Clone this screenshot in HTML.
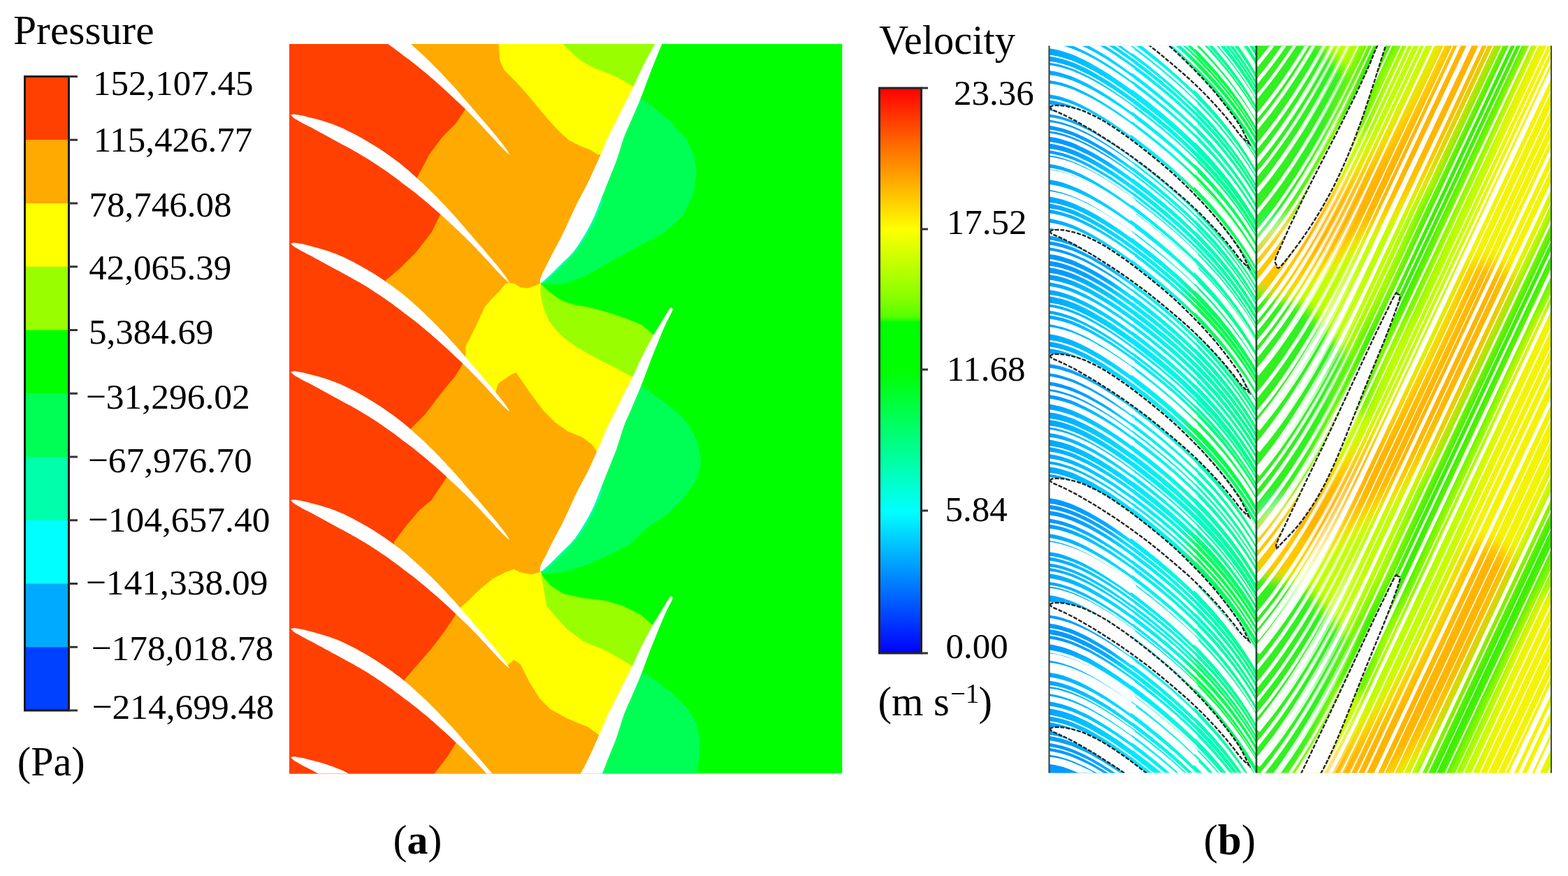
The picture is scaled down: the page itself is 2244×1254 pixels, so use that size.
<!DOCTYPE html>
<html><head><meta charset="utf-8"><title>Pressure and velocity contours</title>
<style>html,body{margin:0;padding:0;background:#fff;width:2244px;height:1254px;overflow:hidden}svg{display:block;filter:blur(0.6px)}</style>
</head><body>
<svg width="2244" height="1254" viewBox="0 0 2244 1254">
<rect width="2244" height="1254" fill="#fff"/>
<clipPath id="pc"><rect x="414.0" y="63.0" width="791.5" height="1044.5"/></clipPath>
<g clip-path="url(#pc)">
<rect x="414.0" y="63.0" width="791.5" height="1044.5" fill="#00ff00"/>
<polygon points="920.2,142.1 932.6,151.4 946.6,163.9 960.0,173.2 966.3,182.6 982.2,198.5 993.4,224.1 996.6,246.4 991.8,278.3 975.9,310.2 950.4,332.5 915.3,351.7 873.8,374.0 841.9,393.1 810.0,405.0 799.5,407.0 787.0,406.6 776.5,405.0 774.4,404.0 801.3,367.0 823.8,330.0 841.1,293.0 857.8,256.0 873.2,219.0 888.4,182.0 905.5,145.0" fill="#00ff55" stroke="#00ff55" stroke-width="0.6" stroke-linejoin="round"/>
<polygon points="919.6,552.8 935.4,565.1 953.0,577.4 970.5,591.4 986.4,609.7 998.4,633.6 1002.0,655.1 1002.5,665.0 996.0,687.8 979.2,711.8 955.3,735.7 926.6,754.8 900.0,779.9 871.6,794.2 839.7,808.6 807.8,818.2 786.0,821.5 776.0,820.5 774.4,817.0 801.7,779.6 824.3,742.1 841.7,704.7 858.6,667.3 874.1,629.9 889.6,592.4 906.9,555.0" fill="#00ff55" stroke="#00ff55" stroke-width="0.6" stroke-linejoin="round"/>
<polygon points="923.0,963.7 943.4,978.0 963.7,994.2 984.0,1014.6 996.3,1034.9 1001.3,1059.3 1000.3,1083.7 996.3,1112.5 844.1,1112.5 853.7,1091.6 862.9,1070.6 871.4,1049.7 879.3,1028.8 888.5,1007.9 898.2,986.9 907.8,966.0" fill="#00ff55" stroke="#00ff55" stroke-width="0.6" stroke-linejoin="round"/>
<polygon points="409.0,58.0 943.0,58.0 944.1,60.0 929.0,91.4 915.5,122.7 901.3,154.1 886.8,185.5 874.0,216.9 861.2,248.2 847.2,279.6 833.3,311.0 817.0,342.4 796.3,373.7 773.7,405.1 774.0,406.6 783.5,416.1 796.3,425.7 807.5,432.1 823.4,436.9 840.0,439.5 866.8,446.5 895.5,456.0 917.9,465.1 936.2,480.5 939.5,482.0 925.2,512.6 912.3,543.1 898.3,573.7 884.1,604.3 872.1,634.8 859.5,665.4 845.7,695.9 832.1,726.5 816.1,757.1 795.6,787.6 773.7,818.2 775.9,824.2 787.8,838.6 807.0,850.5 835.7,856.5 866.1,860.0 892.5,868.1 916.9,880.3 933.2,894.6 939.1,896.0 929.9,915.7 921.1,935.4 912.8,955.0 903.9,974.7 894.8,994.4 885.6,1014.1 877.4,1033.8 870.0,1053.5 861.8,1073.1 853.2,1092.8 844.1,1112.5 409.0,1112.5" fill="#99ff00" stroke="#99ff00" stroke-width="0.6" stroke-linejoin="round"/>
<polygon points="409.0,58.0 805.1,58.0 805.1,62.8 814.4,72.1 830.0,86.1 845.5,95.4 861.1,101.7 876.6,107.9 892.2,115.7 904.6,123.4 914.9,124.0 903.4,149.6 891.6,175.1 880.0,200.7 870.4,226.2 859.7,251.8 848.2,277.3 836.8,302.9 824.6,328.4 810.1,354.0 791.9,379.5 773.7,405.1 772.8,415.0 774.5,428.0 778.0,442.0 785.0,458.5 795.0,472.0 807.3,484.0 823.4,496.0 838.0,504.5 859.6,516.4 883.5,528.3 906.0,540.5 912.8,542.0 901.3,567.1 889.7,592.2 878.7,617.3 869.2,642.4 858.5,667.5 847.2,692.7 836.0,717.8 823.9,742.9 809.6,768.0 791.6,793.1 773.7,818.2 775.9,831.4 779.0,850.0 782.0,867.3 792.9,880.3 811.2,900.7 835.6,919.0 866.1,931.2 898.6,949.5 906.8,955.6 911.9,957.0 905.5,971.1 899.0,985.3 892.5,999.4 885.9,1013.5 879.7,1027.7 874.5,1041.8 869.0,1056.0 863.1,1070.1 857.0,1084.2 850.6,1098.4 844.1,1112.5 409.0,1112.5" fill="#ffff00" stroke="#ffff00" stroke-width="0.6" stroke-linejoin="round"/>
<polygon points="409.0,58.0 713.3,58.0 713.3,62.8 714.9,86.1 721.1,100.1 736.7,115.7 752.2,132.8 767.8,151.4 783.3,170.1 798.9,187.2 814.4,201.2 830.0,209.0 845.5,215.2 854.9,221.4 872.0,222.0 865.4,238.6 858.1,255.3 850.7,271.9 843.0,288.6 835.8,305.2 827.9,321.9 819.3,338.5 809.4,355.2 797.7,371.8 785.2,388.5 773.7,405.1 772.4,405.5 766.0,408.6 754.8,412.3 745.3,411.3 735.7,405.5 727.5,404.5 722.9,406.6 715.0,416.1 703.8,427.3 694.2,438.5 687.8,451.2 681.5,465.6 673.5,481.5 666.0,496.0 666.0,517.4 674.6,526.7 683.2,536.2 691.9,545.8 700.5,555.5 709.1,565.4 711.0,556.0 713.4,549.1 723.5,542.0 732.1,536.2 738.5,533.5 760.9,565.9 777.5,587.9 795.1,605.4 812.6,617.7 833.7,626.5 847.7,637.0 854.7,648.0 866.1,650.0 859.5,665.3 852.8,680.6 845.7,695.9 838.9,711.2 832.2,726.5 824.5,741.7 816.1,757.0 807.0,772.3 795.7,787.6 784.1,802.9 773.7,818.2 772.2,819.0 760.0,822.1 744.6,819.0 735.4,814.4 723.1,819.0 704.7,828.2 686.3,843.6 670.9,858.9 658.7,869.7 660.0,878.9 673.2,893.0 686.5,907.6 699.7,922.5 713.0,937.6 726.2,953.0 735.4,944.9 744.6,951.0 756.9,975.6 772.2,1000.1 787.6,1015.5 810.0,1027.8 821.4,1032.9 841.7,1041.0 858.0,1053.2 869.8,1054.0 867.7,1059.3 865.4,1064.6 863.2,1070.0 860.9,1075.3 858.5,1080.6 856.2,1085.9 853.9,1091.2 851.4,1096.5 849.0,1101.9 846.5,1107.2 844.1,1112.5 409.0,1112.5" fill="#ffaa00" stroke="#ffaa00" stroke-width="0.6" stroke-linejoin="round"/>
<polygon points="409.0,58.0 570.0,58.0 565.0,57.3 579.8,68.6 594.5,80.7 609.3,93.6 624.1,107.3 638.9,121.6 653.6,136.6 668.4,152.2 652.4,176.2 633.3,195.4 614.1,220.9 596.6,254.4 596.6,266.4 608.8,277.1 621.1,288.3 633.3,300.0 617.3,332.5 595.0,361.2 572.7,383.5 551.9,401.1 551.9,415.6 568.0,427.3 584.1,439.9 600.2,453.4 616.4,467.8 632.5,483.1 648.6,499.2 664.7,516.0 651.7,537.7 637.4,554.9 623.0,573.5 608.7,592.2 601.5,600.0 587.0,613.7 587.0,626.1 601.0,638.0 615.0,650.4 628.9,663.6 642.9,677.3 617.3,715.8 600.3,730.0 581.9,751.5 563.5,776.0 563.5,791.7 576.7,801.7 589.8,812.4 603.0,823.6 616.1,835.4 629.3,847.8 642.4,860.8 655.6,874.3 637.2,901.9 618.7,926.5 600.3,948.0 578.8,972.5 578.8,987.3 594.2,999.9 609.5,1013.3 624.9,1027.5 640.2,1042.5 655.6,1058.2 640.2,1083.0 621.8,1107.0 619.0,1112.5 409.0,1112.5" fill="#ff4000" stroke="#ff4000" stroke-width="0.6" stroke-linejoin="round"/>
<polyline points="861.1,286.9 854.4,303.6 846.7,320.3 837.6,337.0 826.5,353.8 812.0,370.5 795.3,387.2 777.4,403.9" fill="none" stroke="#00ffaa" stroke-width="4" stroke-linecap="round"/>
<polyline points="861.1,700.0 854.4,716.7 846.7,733.4 837.6,750.1 826.5,766.9 812.0,783.6 795.3,800.3 777.4,817.0" fill="none" stroke="#00ffaa" stroke-width="4" stroke-linecap="round"/>
<polyline points="861.1,1113.1 854.4,1129.8 846.7,1146.5 837.6,1163.2 826.5,1180.0 812.0,1196.7 795.3,1213.4 777.4,1230.1" fill="none" stroke="#00ffaa" stroke-width="4" stroke-linecap="round"/>
<path d="M416.0,-19.3 C416.3,-19.4 417.3,-19.7 418.0,-19.8 C418.7,-20.0 419.3,-20.2 420.0,-20.3 C420.7,-20.4 421.3,-20.4 422.0,-20.4 C422.7,-20.3 423.3,-20.1 424.0,-20.0 C424.7,-19.9 425.3,-19.8 426.0,-19.7 C426.7,-19.6 427.3,-19.5 428.0,-19.4 C428.7,-19.3 429.3,-19.2 430.0,-19.0 C430.7,-18.9 431.3,-18.8 432.0,-18.7 C432.7,-18.6 432.8,-18.5 434.0,-18.2 C435.2,-17.9 437.3,-17.4 439.0,-17.0 C440.7,-16.5 442.3,-16.1 444.0,-15.7 C445.7,-15.2 447.4,-14.8 449.0,-14.4 C450.7,-13.9 452.4,-13.5 454.0,-13.1 C455.7,-12.6 457.4,-12.1 459.0,-11.6 C460.7,-11.2 462.4,-10.7 464.1,-10.1 C465.7,-9.6 467.4,-9.1 469.1,-8.5 C470.7,-8.0 472.4,-7.4 474.1,-6.8 C475.7,-6.2 477.4,-5.6 479.1,-5.0 C480.7,-4.3 482.4,-3.6 484.1,-2.9 C485.8,-2.2 487.4,-1.6 489.1,-0.8 C490.8,-0.1 492.4,0.7 494.1,1.5 C495.8,2.3 497.4,3.2 499.1,4.0 C500.8,4.8 502.4,5.7 504.1,6.5 C505.8,7.4 507.5,8.3 509.1,9.1 C510.8,10.0 512.5,10.9 514.1,11.9 C515.8,12.8 517.5,13.7 519.1,14.6 C520.8,15.6 522.5,16.5 524.2,17.5 C525.8,18.5 527.5,19.5 529.2,20.5 C530.8,21.5 532.5,22.5 534.2,23.5 C535.8,24.6 537.5,25.6 539.2,26.7 C540.8,27.7 542.5,28.8 544.2,29.9 C545.9,31.0 547.5,32.1 549.2,33.2 C550.9,34.4 552.5,35.5 554.2,36.7 C555.9,37.9 557.5,39.1 559.2,40.3 C560.9,41.5 562.6,42.7 564.2,43.9 C565.9,45.2 567.6,46.4 569.2,47.7 C570.9,48.9 572.6,50.2 574.2,51.5 C575.9,52.8 577.6,54.1 579.2,55.5 C580.9,56.9 582.6,58.4 584.3,59.8 C585.9,61.3 587.6,62.8 589.3,64.3 C590.9,65.7 592.6,67.3 594.3,68.8 C595.9,70.3 597.6,71.8 599.3,73.3 C600.9,74.8 602.6,76.4 604.3,77.9 C606.0,79.5 607.6,81.0 609.3,82.6 C611.0,84.2 612.6,85.9 614.3,87.5 C616.0,89.1 617.6,90.8 619.3,92.4 C621.0,94.1 622.7,95.8 624.3,97.5 C626.0,99.2 627.7,100.9 629.3,102.6 C631.0,104.4 632.7,106.1 634.3,107.9 C636.0,109.6 637.7,111.4 639.3,113.2 C641.0,115.0 642.7,116.7 644.4,118.6 C646.0,120.4 647.7,122.2 649.4,124.0 C651.0,125.9 652.7,127.7 654.4,129.6 C656.0,131.5 657.7,133.5 659.4,135.4 C661.1,137.3 662.7,139.3 664.4,141.2 C666.1,143.2 667.7,145.1 669.4,147.0 C671.1,148.9 672.7,150.9 674.4,152.8 C676.1,154.7 677.7,156.7 679.4,158.6 C681.1,160.6 682.8,162.5 684.4,164.4 C686.1,166.4 687.8,168.3 689.4,170.2 C691.1,172.2 692.8,174.2 694.4,176.1 C696.1,178.1 697.8,180.0 699.4,182.0 C701.1,184.0 702.8,185.9 704.5,187.9 C706.1,189.9 707.8,191.9 709.5,193.9 C711.1,195.9 712.8,198.1 714.5,200.2 C716.1,202.3 717.8,204.3 719.5,206.5 C721.2,208.7 722.8,210.9 724.5,213.3 C726.2,215.8 728.7,219.9 729.5,221.2 C730.3,222.5 730.3,221.8 729.5,221.2 C728.7,220.6 726.2,218.9 724.5,217.4 C722.8,216.0 721.2,214.3 719.5,212.6 C717.8,210.9 716.1,209.1 714.5,207.3 C712.8,205.6 711.1,203.9 709.5,202.1 C707.8,200.3 706.1,198.4 704.5,196.6 C702.8,194.8 701.1,192.9 699.4,191.1 C697.8,189.3 696.1,187.5 694.4,185.7 C692.8,183.9 691.1,182.1 689.4,180.3 C687.8,178.5 686.1,176.7 684.4,175.0 C682.8,173.2 681.1,171.4 679.4,169.7 C677.7,168.0 676.1,166.3 674.4,164.6 C672.7,162.9 671.1,161.2 669.4,159.5 C667.7,157.9 666.1,156.2 664.4,154.6 C662.7,153.0 661.1,151.4 659.4,149.8 C657.7,148.2 656.0,146.7 654.4,145.1 C652.7,143.6 651.0,142.0 649.4,140.4 C647.7,138.8 646.0,137.2 644.4,135.7 C642.7,134.1 641.0,132.6 639.3,131.0 C637.7,129.5 636.0,128.0 634.3,126.4 C632.7,124.9 631.0,123.4 629.3,121.9 C627.7,120.4 626.0,119.0 624.3,117.5 C622.7,116.0 621.0,114.6 619.3,113.1 C617.6,111.7 616.0,110.2 614.3,108.8 C612.6,107.4 611.0,106.0 609.3,104.6 C607.6,103.2 606.0,101.8 604.3,100.4 C602.6,99.0 600.9,97.6 599.3,96.3 C597.6,94.9 595.9,93.6 594.3,92.2 C592.6,90.9 590.9,89.6 589.3,88.4 C587.6,87.1 585.9,85.8 584.3,84.6 C582.6,83.3 580.9,82.1 579.2,80.9 C577.6,79.6 575.9,78.3 574.2,77.0 C572.6,75.7 570.9,74.4 569.2,73.2 C567.6,71.9 565.9,70.7 564.2,69.4 C562.6,68.2 560.9,67.0 559.2,65.8 C557.5,64.6 555.9,63.4 554.2,62.2 C552.5,61.0 550.9,59.9 549.2,58.7 C547.5,57.6 545.9,56.4 544.2,55.3 C542.5,54.1 540.8,53.0 539.2,51.9 C537.5,50.8 535.8,49.7 534.2,48.6 C532.5,47.6 530.8,46.5 529.2,45.4 C527.5,44.4 525.8,43.3 524.2,42.3 C522.5,41.3 520.8,40.3 519.1,39.3 C517.5,38.3 515.8,37.3 514.1,36.3 C512.5,35.3 510.8,34.4 509.1,33.4 C507.5,32.5 505.8,31.5 504.1,30.6 C502.4,29.7 500.8,28.8 499.1,27.9 C497.4,26.9 495.8,26.1 494.1,25.2 C492.4,24.3 490.8,23.4 489.1,22.5 C487.4,21.6 485.8,20.7 484.1,19.8 C482.4,18.9 480.7,18.0 479.1,17.1 C477.4,16.2 475.7,15.3 474.1,14.4 C472.4,13.4 470.7,12.5 469.1,11.6 C467.4,10.7 465.7,9.8 464.1,8.9 C462.4,7.9 460.7,7.0 459.0,6.1 C457.4,5.2 455.7,4.3 454.0,3.4 C452.4,2.5 450.7,1.5 449.0,0.6 C447.4,-0.3 445.7,-1.2 444.0,-2.1 C442.3,-2.9 440.7,-3.8 439.0,-4.6 C437.3,-5.5 435.2,-6.6 434.0,-7.2 C432.8,-7.8 432.7,-7.8 432.0,-8.2 C431.3,-8.6 430.7,-9.0 430.0,-9.4 C429.3,-9.7 428.7,-10.1 428.0,-10.5 C427.3,-10.9 426.7,-11.3 426.0,-11.7 C425.3,-12.0 424.7,-12.4 424.0,-12.8 C423.3,-13.2 422.7,-13.5 422.0,-14.0 C421.3,-14.4 420.7,-14.9 420.0,-15.5 C419.3,-16.1 418.7,-16.8 418.0,-17.4 C417.3,-18.1 416.3,-19.0 416.0,-19.3 C415.7,-19.7 415.7,-19.3 416.0,-19.3 Z" fill="#fff"/>
<path d="M416.0,164.6 C416.3,164.5 417.3,164.2 418.0,164.1 C418.7,163.9 419.3,163.7 420.0,163.6 C420.7,163.5 421.3,163.5 422.0,163.5 C422.7,163.6 423.3,163.8 424.0,163.9 C424.7,164.0 425.3,164.1 426.0,164.2 C426.7,164.3 427.3,164.4 428.0,164.5 C428.7,164.6 429.3,164.7 430.0,164.9 C430.7,165.0 431.3,165.1 432.0,165.2 C432.7,165.3 432.8,165.4 434.0,165.7 C435.2,166.0 437.3,166.5 439.0,166.9 C440.7,167.4 442.3,167.8 444.0,168.2 C445.7,168.7 447.4,169.1 449.0,169.5 C450.7,170.0 452.4,170.4 454.0,170.8 C455.7,171.3 457.4,171.8 459.0,172.3 C460.7,172.7 462.4,173.2 464.1,173.8 C465.7,174.3 467.4,174.8 469.1,175.4 C470.7,175.9 472.4,176.5 474.1,177.1 C475.7,177.7 477.4,178.3 479.1,178.9 C480.7,179.6 482.4,180.3 484.1,181.0 C485.8,181.7 487.4,182.3 489.1,183.1 C490.8,183.8 492.4,184.6 494.1,185.4 C495.8,186.2 497.4,187.1 499.1,187.9 C500.8,188.7 502.4,189.6 504.1,190.4 C505.8,191.3 507.5,192.2 509.1,193.0 C510.8,193.9 512.5,194.8 514.1,195.8 C515.8,196.7 517.5,197.6 519.1,198.5 C520.8,199.5 522.5,200.4 524.2,201.4 C525.8,202.4 527.5,203.4 529.2,204.4 C530.8,205.4 532.5,206.4 534.2,207.4 C535.8,208.5 537.5,209.5 539.2,210.6 C540.8,211.6 542.5,212.7 544.2,213.8 C545.9,214.9 547.5,216.0 549.2,217.1 C550.9,218.3 552.5,219.4 554.2,220.6 C555.9,221.8 557.5,223.0 559.2,224.2 C560.9,225.4 562.6,226.6 564.2,227.8 C565.9,229.1 567.6,230.3 569.2,231.6 C570.9,232.8 572.6,234.1 574.2,235.4 C575.9,236.7 577.6,238.0 579.2,239.4 C580.9,240.8 582.6,242.3 584.3,243.7 C585.9,245.2 587.6,246.7 589.3,248.2 C590.9,249.6 592.6,251.2 594.3,252.7 C595.9,254.2 597.6,255.7 599.3,257.2 C600.9,258.7 602.6,260.3 604.3,261.8 C606.0,263.4 607.6,264.9 609.3,266.5 C611.0,268.1 612.6,269.8 614.3,271.4 C616.0,273.0 617.6,274.7 619.3,276.3 C621.0,278.0 622.7,279.7 624.3,281.4 C626.0,283.1 627.7,284.8 629.3,286.5 C631.0,288.3 632.7,290.0 634.3,291.8 C636.0,293.5 637.7,295.3 639.3,297.1 C641.0,298.9 642.7,300.6 644.4,302.5 C646.0,304.3 647.7,306.1 649.4,307.9 C651.0,309.8 652.7,311.6 654.4,313.5 C656.0,315.4 657.7,317.4 659.4,319.3 C661.1,321.2 662.7,323.2 664.4,325.1 C666.1,327.1 667.7,329.0 669.4,330.9 C671.1,332.8 672.7,334.8 674.4,336.7 C676.1,338.6 677.7,340.6 679.4,342.5 C681.1,344.5 682.8,346.4 684.4,348.3 C686.1,350.3 687.8,352.2 689.4,354.1 C691.1,356.1 692.8,358.1 694.4,360.0 C696.1,362.0 697.8,363.9 699.4,365.9 C701.1,367.9 702.8,369.8 704.5,371.8 C706.1,373.8 707.8,375.8 709.5,377.8 C711.1,379.8 712.8,382.0 714.5,384.1 C716.1,386.2 717.8,388.2 719.5,390.4 C721.2,392.6 722.8,394.8 724.5,397.2 C726.2,399.7 728.7,403.8 729.5,405.1 C730.3,406.4 730.3,405.7 729.5,405.1 C728.7,404.5 726.2,402.8 724.5,401.3 C722.8,399.9 721.2,398.2 719.5,396.5 C717.8,394.8 716.1,393.0 714.5,391.2 C712.8,389.5 711.1,387.8 709.5,386.0 C707.8,384.2 706.1,382.3 704.5,380.5 C702.8,378.7 701.1,376.8 699.4,375.0 C697.8,373.2 696.1,371.4 694.4,369.6 C692.8,367.8 691.1,366.0 689.4,364.2 C687.8,362.4 686.1,360.6 684.4,358.9 C682.8,357.1 681.1,355.3 679.4,353.6 C677.7,351.9 676.1,350.2 674.4,348.5 C672.7,346.8 671.1,345.1 669.4,343.4 C667.7,341.8 666.1,340.1 664.4,338.5 C662.7,336.9 661.1,335.3 659.4,333.7 C657.7,332.1 656.0,330.6 654.4,329.0 C652.7,327.5 651.0,325.9 649.4,324.3 C647.7,322.7 646.0,321.1 644.4,319.6 C642.7,318.0 641.0,316.5 639.3,314.9 C637.7,313.4 636.0,311.9 634.3,310.3 C632.7,308.8 631.0,307.3 629.3,305.8 C627.7,304.3 626.0,302.9 624.3,301.4 C622.7,299.9 621.0,298.5 619.3,297.0 C617.6,295.6 616.0,294.1 614.3,292.7 C612.6,291.3 611.0,289.9 609.3,288.5 C607.6,287.1 606.0,285.7 604.3,284.3 C602.6,282.9 600.9,281.5 599.3,280.2 C597.6,278.8 595.9,277.5 594.3,276.1 C592.6,274.8 590.9,273.5 589.3,272.3 C587.6,271.0 585.9,269.7 584.3,268.5 C582.6,267.2 580.9,266.0 579.2,264.8 C577.6,263.5 575.9,262.2 574.2,260.9 C572.6,259.6 570.9,258.3 569.2,257.1 C567.6,255.8 565.9,254.6 564.2,253.3 C562.6,252.1 560.9,250.9 559.2,249.7 C557.5,248.5 555.9,247.3 554.2,246.1 C552.5,244.9 550.9,243.8 549.2,242.6 C547.5,241.5 545.9,240.3 544.2,239.2 C542.5,238.0 540.8,236.9 539.2,235.8 C537.5,234.7 535.8,233.6 534.2,232.5 C532.5,231.5 530.8,230.4 529.2,229.3 C527.5,228.3 525.8,227.2 524.2,226.2 C522.5,225.2 520.8,224.2 519.1,223.2 C517.5,222.2 515.8,221.2 514.1,220.2 C512.5,219.2 510.8,218.3 509.1,217.3 C507.5,216.4 505.8,215.4 504.1,214.5 C502.4,213.6 500.8,212.7 499.1,211.8 C497.4,210.8 495.8,210.0 494.1,209.1 C492.4,208.2 490.8,207.3 489.1,206.4 C487.4,205.5 485.8,204.6 484.1,203.7 C482.4,202.8 480.7,201.9 479.1,201.0 C477.4,200.1 475.7,199.2 474.1,198.3 C472.4,197.3 470.7,196.4 469.1,195.5 C467.4,194.6 465.7,193.7 464.1,192.8 C462.4,191.8 460.7,190.9 459.0,190.0 C457.4,189.1 455.7,188.2 454.0,187.3 C452.4,186.4 450.7,185.4 449.0,184.5 C447.4,183.6 445.7,182.7 444.0,181.8 C442.3,181.0 440.7,180.1 439.0,179.3 C437.3,178.4 435.2,177.3 434.0,176.7 C432.8,176.1 432.7,176.1 432.0,175.7 C431.3,175.3 430.7,174.9 430.0,174.5 C429.3,174.2 428.7,173.8 428.0,173.4 C427.3,173.0 426.7,172.6 426.0,172.2 C425.3,171.9 424.7,171.5 424.0,171.1 C423.3,170.7 422.7,170.4 422.0,169.9 C421.3,169.5 420.7,169.0 420.0,168.4 C419.3,167.8 418.7,167.1 418.0,166.5 C417.3,165.8 416.3,164.9 416.0,164.6 C415.7,164.2 415.7,164.6 416.0,164.6 Z" fill="#fff"/>
<path d="M416.0,348.5 C416.3,348.4 417.3,348.1 418.0,348.0 C418.7,347.8 419.3,347.6 420.0,347.5 C420.7,347.4 421.3,347.4 422.0,347.4 C422.7,347.5 423.3,347.7 424.0,347.8 C424.7,347.9 425.3,348.0 426.0,348.1 C426.7,348.2 427.3,348.3 428.0,348.4 C428.7,348.5 429.3,348.6 430.0,348.8 C430.7,348.9 431.3,349.0 432.0,349.1 C432.7,349.2 432.8,349.3 434.0,349.6 C435.2,349.9 437.3,350.4 439.0,350.8 C440.7,351.3 442.3,351.7 444.0,352.1 C445.7,352.6 447.4,353.0 449.0,353.4 C450.7,353.9 452.4,354.3 454.0,354.7 C455.7,355.2 457.4,355.7 459.0,356.2 C460.7,356.6 462.4,357.1 464.1,357.7 C465.7,358.2 467.4,358.7 469.1,359.3 C470.7,359.8 472.4,360.4 474.1,361.0 C475.7,361.6 477.4,362.2 479.1,362.8 C480.7,363.5 482.4,364.2 484.1,364.9 C485.8,365.6 487.4,366.2 489.1,367.0 C490.8,367.7 492.4,368.5 494.1,369.3 C495.8,370.1 497.4,371.0 499.1,371.8 C500.8,372.6 502.4,373.5 504.1,374.3 C505.8,375.2 507.5,376.1 509.1,376.9 C510.8,377.8 512.5,378.7 514.1,379.7 C515.8,380.6 517.5,381.5 519.1,382.4 C520.8,383.4 522.5,384.3 524.2,385.3 C525.8,386.3 527.5,387.3 529.2,388.3 C530.8,389.3 532.5,390.3 534.2,391.3 C535.8,392.4 537.5,393.4 539.2,394.5 C540.8,395.5 542.5,396.6 544.2,397.7 C545.9,398.8 547.5,399.9 549.2,401.0 C550.9,402.2 552.5,403.3 554.2,404.5 C555.9,405.7 557.5,406.9 559.2,408.1 C560.9,409.3 562.6,410.5 564.2,411.7 C565.9,413.0 567.6,414.2 569.2,415.5 C570.9,416.7 572.6,418.0 574.2,419.3 C575.9,420.6 577.6,421.9 579.2,423.3 C580.9,424.7 582.6,426.2 584.3,427.6 C585.9,429.1 587.6,430.6 589.3,432.1 C590.9,433.5 592.6,435.1 594.3,436.6 C595.9,438.1 597.6,439.6 599.3,441.1 C600.9,442.6 602.6,444.2 604.3,445.7 C606.0,447.3 607.6,448.8 609.3,450.4 C611.0,452.0 612.6,453.7 614.3,455.3 C616.0,456.9 617.6,458.6 619.3,460.2 C621.0,461.9 622.7,463.6 624.3,465.3 C626.0,467.0 627.7,468.7 629.3,470.4 C631.0,472.2 632.7,473.9 634.3,475.7 C636.0,477.4 637.7,479.2 639.3,481.0 C641.0,482.8 642.7,484.5 644.4,486.4 C646.0,488.2 647.7,490.0 649.4,491.8 C651.0,493.7 652.7,495.5 654.4,497.4 C656.0,499.3 657.7,501.3 659.4,503.2 C661.1,505.1 662.7,507.1 664.4,509.0 C666.1,511.0 667.7,512.9 669.4,514.8 C671.1,516.7 672.7,518.7 674.4,520.6 C676.1,522.5 677.7,524.5 679.4,526.4 C681.1,528.4 682.8,530.3 684.4,532.2 C686.1,534.2 687.8,536.1 689.4,538.0 C691.1,540.0 692.8,542.0 694.4,543.9 C696.1,545.9 697.8,547.8 699.4,549.8 C701.1,551.8 702.8,553.7 704.5,555.7 C706.1,557.7 707.8,559.7 709.5,561.7 C711.1,563.7 712.8,565.9 714.5,568.0 C716.1,570.1 717.8,572.1 719.5,574.3 C721.2,576.5 722.8,578.7 724.5,581.1 C726.2,583.6 728.7,587.7 729.5,589.0 C730.3,590.3 730.3,589.6 729.5,589.0 C728.7,588.4 726.2,586.7 724.5,585.2 C722.8,583.8 721.2,582.1 719.5,580.4 C717.8,578.7 716.1,576.9 714.5,575.1 C712.8,573.4 711.1,571.7 709.5,569.9 C707.8,568.1 706.1,566.2 704.5,564.4 C702.8,562.6 701.1,560.7 699.4,558.9 C697.8,557.1 696.1,555.3 694.4,553.5 C692.8,551.7 691.1,549.9 689.4,548.1 C687.8,546.3 686.1,544.5 684.4,542.8 C682.8,541.0 681.1,539.2 679.4,537.5 C677.7,535.8 676.1,534.1 674.4,532.4 C672.7,530.7 671.1,529.0 669.4,527.3 C667.7,525.7 666.1,524.0 664.4,522.4 C662.7,520.8 661.1,519.2 659.4,517.6 C657.7,516.0 656.0,514.5 654.4,512.9 C652.7,511.4 651.0,509.8 649.4,508.2 C647.7,506.6 646.0,505.0 644.4,503.5 C642.7,501.9 641.0,500.4 639.3,498.8 C637.7,497.3 636.0,495.8 634.3,494.2 C632.7,492.7 631.0,491.2 629.3,489.7 C627.7,488.2 626.0,486.8 624.3,485.3 C622.7,483.8 621.0,482.4 619.3,480.9 C617.6,479.5 616.0,478.0 614.3,476.6 C612.6,475.2 611.0,473.8 609.3,472.4 C607.6,471.0 606.0,469.6 604.3,468.2 C602.6,466.8 600.9,465.4 599.3,464.1 C597.6,462.7 595.9,461.4 594.3,460.0 C592.6,458.7 590.9,457.4 589.3,456.2 C587.6,454.9 585.9,453.6 584.3,452.4 C582.6,451.1 580.9,449.9 579.2,448.7 C577.6,447.4 575.9,446.1 574.2,444.8 C572.6,443.5 570.9,442.2 569.2,441.0 C567.6,439.7 565.9,438.5 564.2,437.2 C562.6,436.0 560.9,434.8 559.2,433.6 C557.5,432.4 555.9,431.2 554.2,430.0 C552.5,428.8 550.9,427.7 549.2,426.5 C547.5,425.4 545.9,424.2 544.2,423.1 C542.5,421.9 540.8,420.8 539.2,419.7 C537.5,418.6 535.8,417.5 534.2,416.4 C532.5,415.4 530.8,414.3 529.2,413.2 C527.5,412.2 525.8,411.1 524.2,410.1 C522.5,409.1 520.8,408.1 519.1,407.1 C517.5,406.1 515.8,405.1 514.1,404.1 C512.5,403.1 510.8,402.2 509.1,401.2 C507.5,400.3 505.8,399.3 504.1,398.4 C502.4,397.5 500.8,396.6 499.1,395.7 C497.4,394.7 495.8,393.9 494.1,393.0 C492.4,392.1 490.8,391.2 489.1,390.3 C487.4,389.4 485.8,388.5 484.1,387.6 C482.4,386.7 480.7,385.8 479.1,384.9 C477.4,384.0 475.7,383.1 474.1,382.2 C472.4,381.2 470.7,380.3 469.1,379.4 C467.4,378.5 465.7,377.6 464.1,376.7 C462.4,375.7 460.7,374.8 459.0,373.9 C457.4,373.0 455.7,372.1 454.0,371.2 C452.4,370.3 450.7,369.3 449.0,368.4 C447.4,367.5 445.7,366.6 444.0,365.7 C442.3,364.9 440.7,364.0 439.0,363.2 C437.3,362.3 435.2,361.2 434.0,360.6 C432.8,360.0 432.7,360.0 432.0,359.6 C431.3,359.2 430.7,358.8 430.0,358.4 C429.3,358.1 428.7,357.7 428.0,357.3 C427.3,356.9 426.7,356.5 426.0,356.1 C425.3,355.8 424.7,355.4 424.0,355.0 C423.3,354.6 422.7,354.3 422.0,353.8 C421.3,353.4 420.7,352.9 420.0,352.3 C419.3,351.7 418.7,351.0 418.0,350.4 C417.3,349.7 416.3,348.8 416.0,348.5 C415.7,348.1 415.7,348.5 416.0,348.5 Z" fill="#fff"/>
<path d="M416.0,532.4 C416.3,532.3 417.3,532.0 418.0,531.9 C418.7,531.7 419.3,531.5 420.0,531.4 C420.7,531.3 421.3,531.3 422.0,531.3 C422.7,531.4 423.3,531.6 424.0,531.7 C424.7,531.8 425.3,531.9 426.0,532.0 C426.7,532.1 427.3,532.2 428.0,532.3 C428.7,532.4 429.3,532.5 430.0,532.7 C430.7,532.8 431.3,532.9 432.0,533.0 C432.7,533.1 432.8,533.2 434.0,533.5 C435.2,533.8 437.3,534.3 439.0,534.7 C440.7,535.2 442.3,535.6 444.0,536.0 C445.7,536.5 447.4,536.9 449.0,537.3 C450.7,537.8 452.4,538.2 454.0,538.6 C455.7,539.1 457.4,539.6 459.0,540.1 C460.7,540.5 462.4,541.0 464.1,541.6 C465.7,542.1 467.4,542.6 469.1,543.2 C470.7,543.7 472.4,544.3 474.1,544.9 C475.7,545.5 477.4,546.1 479.1,546.7 C480.7,547.4 482.4,548.1 484.1,548.8 C485.8,549.5 487.4,550.1 489.1,550.9 C490.8,551.6 492.4,552.4 494.1,553.2 C495.8,554.0 497.4,554.9 499.1,555.7 C500.8,556.5 502.4,557.4 504.1,558.2 C505.8,559.1 507.5,560.0 509.1,560.8 C510.8,561.7 512.5,562.6 514.1,563.6 C515.8,564.5 517.5,565.4 519.1,566.3 C520.8,567.3 522.5,568.2 524.2,569.2 C525.8,570.2 527.5,571.2 529.2,572.2 C530.8,573.2 532.5,574.2 534.2,575.2 C535.8,576.3 537.5,577.3 539.2,578.4 C540.8,579.4 542.5,580.5 544.2,581.6 C545.9,582.7 547.5,583.8 549.2,584.9 C550.9,586.1 552.5,587.2 554.2,588.4 C555.9,589.6 557.5,590.8 559.2,592.0 C560.9,593.2 562.6,594.4 564.2,595.6 C565.9,596.9 567.6,598.1 569.2,599.4 C570.9,600.6 572.6,601.9 574.2,603.2 C575.9,604.5 577.6,605.8 579.2,607.2 C580.9,608.6 582.6,610.1 584.3,611.5 C585.9,613.0 587.6,614.5 589.3,616.0 C590.9,617.4 592.6,619.0 594.3,620.5 C595.9,622.0 597.6,623.5 599.3,625.0 C600.9,626.5 602.6,628.1 604.3,629.6 C606.0,631.2 607.6,632.7 609.3,634.3 C611.0,635.9 612.6,637.6 614.3,639.2 C616.0,640.8 617.6,642.5 619.3,644.1 C621.0,645.8 622.7,647.5 624.3,649.2 C626.0,650.9 627.7,652.6 629.3,654.3 C631.0,656.1 632.7,657.8 634.3,659.6 C636.0,661.3 637.7,663.1 639.3,664.9 C641.0,666.7 642.7,668.4 644.4,670.3 C646.0,672.1 647.7,673.9 649.4,675.7 C651.0,677.6 652.7,679.4 654.4,681.3 C656.0,683.2 657.7,685.2 659.4,687.1 C661.1,689.0 662.7,691.0 664.4,692.9 C666.1,694.9 667.7,696.8 669.4,698.7 C671.1,700.6 672.7,702.6 674.4,704.5 C676.1,706.4 677.7,708.4 679.4,710.3 C681.1,712.3 682.8,714.2 684.4,716.1 C686.1,718.1 687.8,720.0 689.4,721.9 C691.1,723.9 692.8,725.9 694.4,727.8 C696.1,729.8 697.8,731.7 699.4,733.7 C701.1,735.7 702.8,737.6 704.5,739.6 C706.1,741.6 707.8,743.6 709.5,745.6 C711.1,747.6 712.8,749.8 714.5,751.9 C716.1,754.0 717.8,756.0 719.5,758.2 C721.2,760.4 722.8,762.6 724.5,765.0 C726.2,767.5 728.7,771.6 729.5,772.9 C730.3,774.2 730.3,773.5 729.5,772.9 C728.7,772.3 726.2,770.6 724.5,769.1 C722.8,767.7 721.2,766.0 719.5,764.3 C717.8,762.6 716.1,760.8 714.5,759.0 C712.8,757.3 711.1,755.6 709.5,753.8 C707.8,752.0 706.1,750.1 704.5,748.3 C702.8,746.5 701.1,744.6 699.4,742.8 C697.8,741.0 696.1,739.2 694.4,737.4 C692.8,735.6 691.1,733.8 689.4,732.0 C687.8,730.2 686.1,728.4 684.4,726.7 C682.8,724.9 681.1,723.1 679.4,721.4 C677.7,719.7 676.1,718.0 674.4,716.3 C672.7,714.6 671.1,712.9 669.4,711.2 C667.7,709.6 666.1,707.9 664.4,706.3 C662.7,704.7 661.1,703.1 659.4,701.5 C657.7,699.9 656.0,698.4 654.4,696.8 C652.7,695.3 651.0,693.7 649.4,692.1 C647.7,690.5 646.0,688.9 644.4,687.4 C642.7,685.8 641.0,684.3 639.3,682.7 C637.7,681.2 636.0,679.7 634.3,678.1 C632.7,676.6 631.0,675.1 629.3,673.6 C627.7,672.1 626.0,670.7 624.3,669.2 C622.7,667.7 621.0,666.3 619.3,664.8 C617.6,663.4 616.0,661.9 614.3,660.5 C612.6,659.1 611.0,657.7 609.3,656.3 C607.6,654.9 606.0,653.5 604.3,652.1 C602.6,650.7 600.9,649.3 599.3,648.0 C597.6,646.6 595.9,645.3 594.3,643.9 C592.6,642.6 590.9,641.3 589.3,640.1 C587.6,638.8 585.9,637.5 584.3,636.3 C582.6,635.0 580.9,633.8 579.2,632.6 C577.6,631.3 575.9,630.0 574.2,628.7 C572.6,627.4 570.9,626.1 569.2,624.9 C567.6,623.6 565.9,622.4 564.2,621.1 C562.6,619.9 560.9,618.7 559.2,617.5 C557.5,616.3 555.9,615.1 554.2,613.9 C552.5,612.7 550.9,611.6 549.2,610.4 C547.5,609.3 545.9,608.1 544.2,607.0 C542.5,605.8 540.8,604.7 539.2,603.6 C537.5,602.5 535.8,601.4 534.2,600.3 C532.5,599.3 530.8,598.2 529.2,597.1 C527.5,596.1 525.8,595.0 524.2,594.0 C522.5,593.0 520.8,592.0 519.1,591.0 C517.5,590.0 515.8,589.0 514.1,588.0 C512.5,587.0 510.8,586.1 509.1,585.1 C507.5,584.2 505.8,583.2 504.1,582.3 C502.4,581.4 500.8,580.5 499.1,579.6 C497.4,578.6 495.8,577.8 494.1,576.9 C492.4,576.0 490.8,575.1 489.1,574.2 C487.4,573.3 485.8,572.4 484.1,571.5 C482.4,570.6 480.7,569.7 479.1,568.8 C477.4,567.9 475.7,567.0 474.1,566.1 C472.4,565.1 470.7,564.2 469.1,563.3 C467.4,562.4 465.7,561.5 464.1,560.6 C462.4,559.6 460.7,558.7 459.0,557.8 C457.4,556.9 455.7,556.0 454.0,555.1 C452.4,554.2 450.7,553.2 449.0,552.3 C447.4,551.4 445.7,550.5 444.0,549.6 C442.3,548.8 440.7,547.9 439.0,547.1 C437.3,546.2 435.2,545.1 434.0,544.5 C432.8,543.9 432.7,543.9 432.0,543.5 C431.3,543.1 430.7,542.7 430.0,542.3 C429.3,542.0 428.7,541.6 428.0,541.2 C427.3,540.8 426.7,540.4 426.0,540.0 C425.3,539.7 424.7,539.3 424.0,538.9 C423.3,538.5 422.7,538.2 422.0,537.7 C421.3,537.3 420.7,536.8 420.0,536.2 C419.3,535.6 418.7,534.9 418.0,534.3 C417.3,533.6 416.3,532.7 416.0,532.4 C415.7,532.0 415.7,532.4 416.0,532.4 Z" fill="#fff"/>
<path d="M416.0,716.3 C416.3,716.2 417.3,715.9 418.0,715.8 C418.7,715.6 419.3,715.4 420.0,715.3 C420.7,715.2 421.3,715.2 422.0,715.2 C422.7,715.3 423.3,715.5 424.0,715.6 C424.7,715.7 425.3,715.8 426.0,715.9 C426.7,716.0 427.3,716.1 428.0,716.2 C428.7,716.3 429.3,716.4 430.0,716.6 C430.7,716.7 431.3,716.8 432.0,716.9 C432.7,717.0 432.8,717.1 434.0,717.4 C435.2,717.7 437.3,718.2 439.0,718.6 C440.7,719.1 442.3,719.5 444.0,719.9 C445.7,720.4 447.4,720.8 449.0,721.2 C450.7,721.7 452.4,722.1 454.0,722.5 C455.7,723.0 457.4,723.5 459.0,724.0 C460.7,724.4 462.4,724.9 464.1,725.5 C465.7,726.0 467.4,726.5 469.1,727.1 C470.7,727.6 472.4,728.2 474.1,728.8 C475.7,729.4 477.4,730.0 479.1,730.6 C480.7,731.3 482.4,732.0 484.1,732.7 C485.8,733.4 487.4,734.0 489.1,734.8 C490.8,735.5 492.4,736.3 494.1,737.1 C495.8,737.9 497.4,738.8 499.1,739.6 C500.8,740.4 502.4,741.3 504.1,742.1 C505.8,743.0 507.5,743.9 509.1,744.7 C510.8,745.6 512.5,746.5 514.1,747.5 C515.8,748.4 517.5,749.3 519.1,750.2 C520.8,751.2 522.5,752.1 524.2,753.1 C525.8,754.1 527.5,755.1 529.2,756.1 C530.8,757.1 532.5,758.1 534.2,759.1 C535.8,760.2 537.5,761.2 539.2,762.3 C540.8,763.3 542.5,764.4 544.2,765.5 C545.9,766.6 547.5,767.7 549.2,768.8 C550.9,770.0 552.5,771.1 554.2,772.3 C555.9,773.5 557.5,774.7 559.2,775.9 C560.9,777.1 562.6,778.3 564.2,779.5 C565.9,780.8 567.6,782.0 569.2,783.3 C570.9,784.5 572.6,785.8 574.2,787.1 C575.9,788.4 577.6,789.7 579.2,791.1 C580.9,792.5 582.6,794.0 584.3,795.4 C585.9,796.9 587.6,798.4 589.3,799.9 C590.9,801.3 592.6,802.9 594.3,804.4 C595.9,805.9 597.6,807.4 599.3,808.9 C600.9,810.4 602.6,812.0 604.3,813.5 C606.0,815.1 607.6,816.6 609.3,818.2 C611.0,819.8 612.6,821.5 614.3,823.1 C616.0,824.7 617.6,826.4 619.3,828.0 C621.0,829.7 622.7,831.4 624.3,833.1 C626.0,834.8 627.7,836.5 629.3,838.2 C631.0,840.0 632.7,841.7 634.3,843.5 C636.0,845.2 637.7,847.0 639.3,848.8 C641.0,850.6 642.7,852.3 644.4,854.2 C646.0,856.0 647.7,857.8 649.4,859.6 C651.0,861.5 652.7,863.3 654.4,865.2 C656.0,867.1 657.7,869.1 659.4,871.0 C661.1,872.9 662.7,874.9 664.4,876.8 C666.1,878.8 667.7,880.7 669.4,882.6 C671.1,884.5 672.7,886.5 674.4,888.4 C676.1,890.3 677.7,892.3 679.4,894.2 C681.1,896.2 682.8,898.1 684.4,900.0 C686.1,902.0 687.8,903.9 689.4,905.8 C691.1,907.8 692.8,909.8 694.4,911.7 C696.1,913.7 697.8,915.6 699.4,917.6 C701.1,919.6 702.8,921.5 704.5,923.5 C706.1,925.5 707.8,927.5 709.5,929.5 C711.1,931.5 712.8,933.7 714.5,935.8 C716.1,937.9 717.8,939.9 719.5,942.1 C721.2,944.3 722.8,946.5 724.5,948.9 C726.2,951.4 728.7,955.5 729.5,956.8 C730.3,958.1 730.3,957.4 729.5,956.8 C728.7,956.2 726.2,954.5 724.5,953.0 C722.8,951.6 721.2,949.9 719.5,948.2 C717.8,946.5 716.1,944.7 714.5,942.9 C712.8,941.2 711.1,939.5 709.5,937.7 C707.8,935.9 706.1,934.0 704.5,932.2 C702.8,930.4 701.1,928.5 699.4,926.7 C697.8,924.9 696.1,923.1 694.4,921.3 C692.8,919.5 691.1,917.7 689.4,915.9 C687.8,914.1 686.1,912.3 684.4,910.6 C682.8,908.8 681.1,907.0 679.4,905.3 C677.7,903.6 676.1,901.9 674.4,900.2 C672.7,898.5 671.1,896.8 669.4,895.1 C667.7,893.5 666.1,891.8 664.4,890.2 C662.7,888.6 661.1,887.0 659.4,885.4 C657.7,883.8 656.0,882.3 654.4,880.7 C652.7,879.2 651.0,877.6 649.4,876.0 C647.7,874.4 646.0,872.8 644.4,871.3 C642.7,869.7 641.0,868.2 639.3,866.6 C637.7,865.1 636.0,863.6 634.3,862.0 C632.7,860.5 631.0,859.0 629.3,857.5 C627.7,856.0 626.0,854.6 624.3,853.1 C622.7,851.6 621.0,850.2 619.3,848.7 C617.6,847.3 616.0,845.8 614.3,844.4 C612.6,843.0 611.0,841.6 609.3,840.2 C607.6,838.8 606.0,837.4 604.3,836.0 C602.6,834.6 600.9,833.2 599.3,831.9 C597.6,830.5 595.9,829.2 594.3,827.8 C592.6,826.5 590.9,825.2 589.3,824.0 C587.6,822.7 585.9,821.4 584.3,820.2 C582.6,818.9 580.9,817.7 579.2,816.5 C577.6,815.2 575.9,813.9 574.2,812.6 C572.6,811.3 570.9,810.0 569.2,808.8 C567.6,807.5 565.9,806.3 564.2,805.0 C562.6,803.8 560.9,802.6 559.2,801.4 C557.5,800.2 555.9,799.0 554.2,797.8 C552.5,796.6 550.9,795.5 549.2,794.3 C547.5,793.2 545.9,792.0 544.2,790.9 C542.5,789.7 540.8,788.6 539.2,787.5 C537.5,786.4 535.8,785.3 534.2,784.2 C532.5,783.2 530.8,782.1 529.2,781.0 C527.5,780.0 525.8,778.9 524.2,777.9 C522.5,776.9 520.8,775.9 519.1,774.9 C517.5,773.9 515.8,772.9 514.1,771.9 C512.5,770.9 510.8,770.0 509.1,769.0 C507.5,768.1 505.8,767.1 504.1,766.2 C502.4,765.3 500.8,764.4 499.1,763.5 C497.4,762.5 495.8,761.7 494.1,760.8 C492.4,759.9 490.8,759.0 489.1,758.1 C487.4,757.2 485.8,756.3 484.1,755.4 C482.4,754.5 480.7,753.6 479.1,752.7 C477.4,751.8 475.7,750.9 474.1,750.0 C472.4,749.0 470.7,748.1 469.1,747.2 C467.4,746.3 465.7,745.4 464.1,744.5 C462.4,743.5 460.7,742.6 459.0,741.7 C457.4,740.8 455.7,739.9 454.0,739.0 C452.4,738.1 450.7,737.1 449.0,736.2 C447.4,735.3 445.7,734.4 444.0,733.5 C442.3,732.7 440.7,731.8 439.0,731.0 C437.3,730.1 435.2,729.0 434.0,728.4 C432.8,727.8 432.7,727.8 432.0,727.4 C431.3,727.0 430.7,726.6 430.0,726.2 C429.3,725.9 428.7,725.5 428.0,725.1 C427.3,724.7 426.7,724.3 426.0,723.9 C425.3,723.6 424.7,723.2 424.0,722.8 C423.3,722.4 422.7,722.1 422.0,721.6 C421.3,721.2 420.7,720.7 420.0,720.1 C419.3,719.5 418.7,718.8 418.0,718.2 C417.3,717.5 416.3,716.6 416.0,716.3 C415.7,715.9 415.7,716.3 416.0,716.3 Z" fill="#fff"/>
<path d="M416.0,900.2 C416.3,900.1 417.3,899.8 418.0,899.7 C418.7,899.5 419.3,899.3 420.0,899.2 C420.7,899.1 421.3,899.1 422.0,899.1 C422.7,899.2 423.3,899.4 424.0,899.5 C424.7,899.6 425.3,899.7 426.0,899.8 C426.7,899.9 427.3,900.0 428.0,900.1 C428.7,900.2 429.3,900.3 430.0,900.5 C430.7,900.6 431.3,900.7 432.0,900.8 C432.7,900.9 432.8,901.0 434.0,901.3 C435.2,901.6 437.3,902.1 439.0,902.5 C440.7,903.0 442.3,903.4 444.0,903.8 C445.7,904.3 447.4,904.7 449.0,905.1 C450.7,905.6 452.4,906.0 454.0,906.4 C455.7,906.9 457.4,907.4 459.0,907.9 C460.7,908.3 462.4,908.8 464.1,909.4 C465.7,909.9 467.4,910.4 469.1,911.0 C470.7,911.5 472.4,912.1 474.1,912.7 C475.7,913.3 477.4,913.9 479.1,914.5 C480.7,915.2 482.4,915.9 484.1,916.6 C485.8,917.3 487.4,917.9 489.1,918.7 C490.8,919.4 492.4,920.2 494.1,921.0 C495.8,921.8 497.4,922.7 499.1,923.5 C500.8,924.3 502.4,925.2 504.1,926.0 C505.8,926.9 507.5,927.8 509.1,928.6 C510.8,929.5 512.5,930.4 514.1,931.4 C515.8,932.3 517.5,933.2 519.1,934.1 C520.8,935.1 522.5,936.0 524.2,937.0 C525.8,938.0 527.5,939.0 529.2,940.0 C530.8,941.0 532.5,942.0 534.2,943.0 C535.8,944.1 537.5,945.1 539.2,946.2 C540.8,947.2 542.5,948.3 544.2,949.4 C545.9,950.5 547.5,951.6 549.2,952.7 C550.9,953.9 552.5,955.0 554.2,956.2 C555.9,957.4 557.5,958.6 559.2,959.8 C560.9,961.0 562.6,962.2 564.2,963.4 C565.9,964.7 567.6,965.9 569.2,967.2 C570.9,968.4 572.6,969.7 574.2,971.0 C575.9,972.3 577.6,973.6 579.2,975.0 C580.9,976.4 582.6,977.9 584.3,979.3 C585.9,980.8 587.6,982.3 589.3,983.8 C590.9,985.2 592.6,986.8 594.3,988.3 C595.9,989.8 597.6,991.3 599.3,992.8 C600.9,994.3 602.6,995.9 604.3,997.4 C606.0,999.0 607.6,1000.5 609.3,1002.1 C611.0,1003.7 612.6,1005.4 614.3,1007.0 C616.0,1008.6 617.6,1010.3 619.3,1011.9 C621.0,1013.6 622.7,1015.3 624.3,1017.0 C626.0,1018.7 627.7,1020.4 629.3,1022.1 C631.0,1023.9 632.7,1025.6 634.3,1027.4 C636.0,1029.1 637.7,1030.9 639.3,1032.7 C641.0,1034.5 642.7,1036.2 644.4,1038.1 C646.0,1039.9 647.7,1041.7 649.4,1043.5 C651.0,1045.4 652.7,1047.2 654.4,1049.1 C656.0,1051.0 657.7,1053.0 659.4,1054.9 C661.1,1056.8 662.7,1058.8 664.4,1060.7 C666.1,1062.7 667.7,1064.6 669.4,1066.5 C671.1,1068.4 672.7,1070.4 674.4,1072.3 C676.1,1074.2 677.7,1076.2 679.4,1078.1 C681.1,1080.1 682.8,1082.0 684.4,1083.9 C686.1,1085.9 687.8,1087.8 689.4,1089.7 C691.1,1091.7 692.8,1093.7 694.4,1095.6 C696.1,1097.6 697.8,1099.5 699.4,1101.5 C701.1,1103.5 702.8,1105.4 704.5,1107.4 C706.1,1109.4 707.8,1111.4 709.5,1113.4 C711.1,1115.4 712.8,1117.6 714.5,1119.7 C716.1,1121.8 717.8,1123.8 719.5,1126.0 C721.2,1128.2 722.8,1130.4 724.5,1132.8 C726.2,1135.3 728.7,1139.4 729.5,1140.7 C730.3,1142.0 730.3,1141.3 729.5,1140.7 C728.7,1140.1 726.2,1138.4 724.5,1136.9 C722.8,1135.5 721.2,1133.8 719.5,1132.1 C717.8,1130.4 716.1,1128.6 714.5,1126.8 C712.8,1125.1 711.1,1123.4 709.5,1121.6 C707.8,1119.8 706.1,1117.9 704.5,1116.1 C702.8,1114.3 701.1,1112.4 699.4,1110.6 C697.8,1108.8 696.1,1107.0 694.4,1105.2 C692.8,1103.4 691.1,1101.6 689.4,1099.8 C687.8,1098.0 686.1,1096.2 684.4,1094.5 C682.8,1092.7 681.1,1090.9 679.4,1089.2 C677.7,1087.5 676.1,1085.8 674.4,1084.1 C672.7,1082.4 671.1,1080.7 669.4,1079.0 C667.7,1077.4 666.1,1075.7 664.4,1074.1 C662.7,1072.5 661.1,1070.9 659.4,1069.3 C657.7,1067.7 656.0,1066.2 654.4,1064.6 C652.7,1063.1 651.0,1061.5 649.4,1059.9 C647.7,1058.3 646.0,1056.7 644.4,1055.2 C642.7,1053.6 641.0,1052.1 639.3,1050.5 C637.7,1049.0 636.0,1047.5 634.3,1045.9 C632.7,1044.4 631.0,1042.9 629.3,1041.4 C627.7,1039.9 626.0,1038.5 624.3,1037.0 C622.7,1035.5 621.0,1034.1 619.3,1032.6 C617.6,1031.2 616.0,1029.7 614.3,1028.3 C612.6,1026.9 611.0,1025.5 609.3,1024.1 C607.6,1022.7 606.0,1021.3 604.3,1019.9 C602.6,1018.5 600.9,1017.1 599.3,1015.8 C597.6,1014.4 595.9,1013.1 594.3,1011.7 C592.6,1010.4 590.9,1009.1 589.3,1007.9 C587.6,1006.6 585.9,1005.3 584.3,1004.1 C582.6,1002.8 580.9,1001.6 579.2,1000.4 C577.6,999.1 575.9,997.8 574.2,996.5 C572.6,995.2 570.9,993.9 569.2,992.7 C567.6,991.4 565.9,990.2 564.2,988.9 C562.6,987.7 560.9,986.5 559.2,985.3 C557.5,984.1 555.9,982.9 554.2,981.7 C552.5,980.5 550.9,979.4 549.2,978.2 C547.5,977.1 545.9,975.9 544.2,974.8 C542.5,973.6 540.8,972.5 539.2,971.4 C537.5,970.3 535.8,969.2 534.2,968.1 C532.5,967.1 530.8,966.0 529.2,964.9 C527.5,963.9 525.8,962.8 524.2,961.8 C522.5,960.8 520.8,959.8 519.1,958.8 C517.5,957.8 515.8,956.8 514.1,955.8 C512.5,954.8 510.8,953.9 509.1,952.9 C507.5,952.0 505.8,951.0 504.1,950.1 C502.4,949.2 500.8,948.3 499.1,947.4 C497.4,946.4 495.8,945.6 494.1,944.7 C492.4,943.8 490.8,942.9 489.1,942.0 C487.4,941.1 485.8,940.2 484.1,939.3 C482.4,938.4 480.7,937.5 479.1,936.6 C477.4,935.7 475.7,934.8 474.1,933.9 C472.4,932.9 470.7,932.0 469.1,931.1 C467.4,930.2 465.7,929.3 464.1,928.4 C462.4,927.4 460.7,926.5 459.0,925.6 C457.4,924.7 455.7,923.8 454.0,922.9 C452.4,922.0 450.7,921.0 449.0,920.1 C447.4,919.2 445.7,918.3 444.0,917.4 C442.3,916.6 440.7,915.7 439.0,914.9 C437.3,914.0 435.2,912.9 434.0,912.3 C432.8,911.7 432.7,911.7 432.0,911.3 C431.3,910.9 430.7,910.5 430.0,910.1 C429.3,909.8 428.7,909.4 428.0,909.0 C427.3,908.6 426.7,908.2 426.0,907.8 C425.3,907.5 424.7,907.1 424.0,906.7 C423.3,906.3 422.7,906.0 422.0,905.5 C421.3,905.1 420.7,904.6 420.0,904.0 C419.3,903.4 418.7,902.7 418.0,902.1 C417.3,901.4 416.3,900.5 416.0,900.2 C415.7,899.8 415.7,900.2 416.0,900.2 Z" fill="#fff"/>
<path d="M416.0,1084.1 C416.3,1084.0 417.3,1083.7 418.0,1083.6 C418.7,1083.4 419.3,1083.2 420.0,1083.1 C420.7,1083.0 421.3,1083.0 422.0,1083.0 C422.7,1083.1 423.3,1083.3 424.0,1083.4 C424.7,1083.5 425.3,1083.6 426.0,1083.7 C426.7,1083.8 427.3,1083.9 428.0,1084.0 C428.7,1084.1 429.3,1084.2 430.0,1084.4 C430.7,1084.5 431.3,1084.6 432.0,1084.7 C432.7,1084.8 432.8,1084.9 434.0,1085.2 C435.2,1085.5 437.3,1086.0 439.0,1086.4 C440.7,1086.9 442.3,1087.3 444.0,1087.7 C445.7,1088.2 447.4,1088.6 449.0,1089.0 C450.7,1089.5 452.4,1089.9 454.0,1090.3 C455.7,1090.8 457.4,1091.3 459.0,1091.8 C460.7,1092.2 462.4,1092.7 464.1,1093.3 C465.7,1093.8 467.4,1094.3 469.1,1094.9 C470.7,1095.4 472.4,1096.0 474.1,1096.6 C475.7,1097.2 477.4,1097.8 479.1,1098.4 C480.7,1099.1 482.4,1099.8 484.1,1100.5 C485.8,1101.2 487.4,1101.8 489.1,1102.6 C490.8,1103.3 492.4,1104.1 494.1,1104.9 C495.8,1105.7 497.4,1106.6 499.1,1107.4 C500.8,1108.2 502.4,1109.1 504.1,1109.9 C505.8,1110.8 507.5,1111.7 509.1,1112.5 C510.8,1113.4 512.5,1114.3 514.1,1115.3 C515.8,1116.2 517.5,1117.1 519.1,1118.0 C520.8,1119.0 522.5,1119.9 524.2,1120.9 C525.8,1121.9 527.5,1122.9 529.2,1123.9 C530.8,1124.9 532.5,1125.9 534.2,1126.9 C535.8,1128.0 537.5,1129.0 539.2,1130.1 C540.8,1131.1 542.5,1132.2 544.2,1133.3 C545.9,1134.4 547.5,1135.5 549.2,1136.6 C550.9,1137.8 552.5,1138.9 554.2,1140.1 C555.9,1141.3 557.5,1142.5 559.2,1143.7 C560.9,1144.9 562.6,1146.1 564.2,1147.3 C565.9,1148.6 567.6,1149.8 569.2,1151.1 C570.9,1152.3 572.6,1153.6 574.2,1154.9 C575.9,1156.2 577.6,1157.5 579.2,1158.9 C580.9,1160.3 582.6,1161.8 584.3,1163.2 C585.9,1164.7 587.6,1166.2 589.3,1167.7 C590.9,1169.1 592.6,1170.7 594.3,1172.2 C595.9,1173.7 597.6,1175.2 599.3,1176.7 C600.9,1178.2 602.6,1179.8 604.3,1181.3 C606.0,1182.9 607.6,1184.4 609.3,1186.0 C611.0,1187.6 612.6,1189.3 614.3,1190.9 C616.0,1192.5 617.6,1194.2 619.3,1195.8 C621.0,1197.5 622.7,1199.2 624.3,1200.9 C626.0,1202.6 627.7,1204.3 629.3,1206.0 C631.0,1207.8 632.7,1209.5 634.3,1211.3 C636.0,1213.0 637.7,1214.8 639.3,1216.6 C641.0,1218.4 642.7,1220.1 644.4,1222.0 C646.0,1223.8 647.7,1225.6 649.4,1227.4 C651.0,1229.3 652.7,1231.1 654.4,1233.0 C656.0,1234.9 657.7,1236.9 659.4,1238.8 C661.1,1240.7 662.7,1242.7 664.4,1244.6 C666.1,1246.6 667.7,1248.5 669.4,1250.4 C671.1,1252.3 672.7,1254.3 674.4,1256.2 C676.1,1258.1 677.7,1260.1 679.4,1262.0 C681.1,1264.0 682.8,1265.9 684.4,1267.8 C686.1,1269.8 687.8,1271.7 689.4,1273.6 C691.1,1275.6 692.8,1277.6 694.4,1279.5 C696.1,1281.5 697.8,1283.4 699.4,1285.4 C701.1,1287.4 702.8,1289.3 704.5,1291.3 C706.1,1293.3 707.8,1295.3 709.5,1297.3 C711.1,1299.3 712.8,1301.5 714.5,1303.6 C716.1,1305.7 717.8,1307.7 719.5,1309.9 C721.2,1312.1 722.8,1314.3 724.5,1316.7 C726.2,1319.2 728.7,1323.3 729.5,1324.6 C730.3,1325.9 730.3,1325.2 729.5,1324.6 C728.7,1324.0 726.2,1322.3 724.5,1320.8 C722.8,1319.4 721.2,1317.7 719.5,1316.0 C717.8,1314.3 716.1,1312.5 714.5,1310.7 C712.8,1309.0 711.1,1307.3 709.5,1305.5 C707.8,1303.7 706.1,1301.8 704.5,1300.0 C702.8,1298.2 701.1,1296.3 699.4,1294.5 C697.8,1292.7 696.1,1290.9 694.4,1289.1 C692.8,1287.3 691.1,1285.5 689.4,1283.7 C687.8,1281.9 686.1,1280.1 684.4,1278.4 C682.8,1276.6 681.1,1274.8 679.4,1273.1 C677.7,1271.4 676.1,1269.7 674.4,1268.0 C672.7,1266.3 671.1,1264.6 669.4,1262.9 C667.7,1261.3 666.1,1259.6 664.4,1258.0 C662.7,1256.4 661.1,1254.8 659.4,1253.2 C657.7,1251.6 656.0,1250.1 654.4,1248.5 C652.7,1247.0 651.0,1245.4 649.4,1243.8 C647.7,1242.2 646.0,1240.6 644.4,1239.1 C642.7,1237.5 641.0,1236.0 639.3,1234.4 C637.7,1232.9 636.0,1231.4 634.3,1229.8 C632.7,1228.3 631.0,1226.8 629.3,1225.3 C627.7,1223.8 626.0,1222.4 624.3,1220.9 C622.7,1219.4 621.0,1218.0 619.3,1216.5 C617.6,1215.1 616.0,1213.6 614.3,1212.2 C612.6,1210.8 611.0,1209.4 609.3,1208.0 C607.6,1206.6 606.0,1205.2 604.3,1203.8 C602.6,1202.4 600.9,1201.0 599.3,1199.7 C597.6,1198.3 595.9,1197.0 594.3,1195.6 C592.6,1194.3 590.9,1193.0 589.3,1191.8 C587.6,1190.5 585.9,1189.2 584.3,1188.0 C582.6,1186.7 580.9,1185.5 579.2,1184.3 C577.6,1183.0 575.9,1181.7 574.2,1180.4 C572.6,1179.1 570.9,1177.8 569.2,1176.6 C567.6,1175.3 565.9,1174.1 564.2,1172.8 C562.6,1171.6 560.9,1170.4 559.2,1169.2 C557.5,1168.0 555.9,1166.8 554.2,1165.6 C552.5,1164.4 550.9,1163.3 549.2,1162.1 C547.5,1161.0 545.9,1159.8 544.2,1158.7 C542.5,1157.5 540.8,1156.4 539.2,1155.3 C537.5,1154.2 535.8,1153.1 534.2,1152.0 C532.5,1151.0 530.8,1149.9 529.2,1148.8 C527.5,1147.8 525.8,1146.7 524.2,1145.7 C522.5,1144.7 520.8,1143.7 519.1,1142.7 C517.5,1141.7 515.8,1140.7 514.1,1139.7 C512.5,1138.7 510.8,1137.8 509.1,1136.8 C507.5,1135.9 505.8,1134.9 504.1,1134.0 C502.4,1133.1 500.8,1132.2 499.1,1131.3 C497.4,1130.3 495.8,1129.5 494.1,1128.6 C492.4,1127.7 490.8,1126.8 489.1,1125.9 C487.4,1125.0 485.8,1124.1 484.1,1123.2 C482.4,1122.3 480.7,1121.4 479.1,1120.5 C477.4,1119.6 475.7,1118.7 474.1,1117.8 C472.4,1116.8 470.7,1115.9 469.1,1115.0 C467.4,1114.1 465.7,1113.2 464.1,1112.3 C462.4,1111.3 460.7,1110.4 459.0,1109.5 C457.4,1108.6 455.7,1107.7 454.0,1106.8 C452.4,1105.9 450.7,1104.9 449.0,1104.0 C447.4,1103.1 445.7,1102.2 444.0,1101.3 C442.3,1100.5 440.7,1099.6 439.0,1098.8 C437.3,1097.9 435.2,1096.8 434.0,1096.2 C432.8,1095.6 432.7,1095.6 432.0,1095.2 C431.3,1094.8 430.7,1094.4 430.0,1094.0 C429.3,1093.7 428.7,1093.3 428.0,1092.9 C427.3,1092.5 426.7,1092.1 426.0,1091.7 C425.3,1091.4 424.7,1091.0 424.0,1090.6 C423.3,1090.2 422.7,1089.9 422.0,1089.4 C421.3,1089.0 420.7,1088.5 420.0,1087.9 C419.3,1087.3 418.7,1086.6 418.0,1086.0 C417.3,1085.3 416.3,1084.4 416.0,1084.1 C415.7,1083.7 415.7,1084.1 416.0,1084.1 Z" fill="#fff"/>
<path d="M960.9,28.3 C960.5,28.4 961.0,25.2 958.2,29.2 C955.4,33.1 948.3,45.3 944.2,52.0 C940.1,58.7 938.1,61.6 933.7,69.5 C929.3,77.4 922.3,90.6 917.9,99.4 C913.5,108.2 911.5,113.7 907.4,122.2 C903.3,130.7 897.7,141.4 893.3,150.2 C888.9,159.0 885.2,166.6 881.1,174.8 C877.0,183.0 872.1,192.4 868.8,199.4 C865.5,206.4 864.5,210.0 861.5,216.9 C858.5,223.8 854.5,232.8 850.9,240.8 C847.3,248.8 843.7,256.7 839.7,264.7 C835.7,272.7 831.0,280.7 827.0,288.7 C823.0,296.7 819.5,304.6 815.8,312.6 C812.1,320.6 808.6,328.5 804.6,336.5 C800.6,344.5 795.6,353.2 791.9,360.4 C788.2,367.6 784.9,374.4 782.3,379.6 C779.6,384.9 777.5,388.7 776.0,391.9 C774.5,395.1 773.7,397.0 773.2,398.9 C772.7,400.8 772.8,402.4 772.8,403.5 C772.8,404.6 773.4,405.1 773.5,405.4 C773.6,405.7 773.2,405.6 773.5,405.4 C773.8,405.2 774.4,405.0 775.5,404.2 C776.6,403.4 777.8,402.4 780.0,400.4 C782.2,398.4 784.6,396.3 788.7,392.3 C792.8,388.3 799.3,381.7 804.6,376.4 C809.9,371.1 815.3,367.0 820.6,360.4 C825.9,353.8 831.7,344.5 836.5,336.5 C841.3,328.5 845.6,320.6 849.3,312.6 C853.0,304.6 855.7,296.7 858.9,288.7 C862.1,280.7 865.8,271.3 868.4,264.7 C871.0,258.0 872.7,254.1 874.8,248.8 C876.9,243.5 879.2,238.1 881.2,232.8 C883.2,227.5 884.5,223.1 886.5,216.9 C888.5,210.7 890.4,203.4 893.3,195.8 C896.2,188.2 900.4,179.5 903.9,171.3 C907.4,163.1 911.5,153.7 914.4,146.7 C917.3,139.7 918.5,136.8 921.4,129.2 C924.3,121.6 928.4,110.2 931.9,101.1 C935.4,92.0 939.0,83.3 942.5,74.8 C946.0,66.3 949.6,57.5 953.0,50.2 C956.4,42.9 961.3,34.5 962.6,30.9 C963.9,27.2 961.2,28.7 960.9,28.3 C960.6,27.9 961.3,28.1 960.9,28.3 Z" fill="#fff"/>
<path d="M960.9,441.4 C960.5,441.5 961.0,438.4 958.2,442.3 C955.4,446.2 948.3,458.4 944.2,465.1 C940.1,471.8 938.1,474.7 933.7,482.6 C929.3,490.5 922.3,503.7 917.9,512.5 C913.5,521.3 911.5,526.8 907.4,535.3 C903.3,543.8 897.7,554.5 893.3,563.3 C888.9,572.1 885.2,579.7 881.1,587.9 C877.0,596.1 872.1,605.5 868.8,612.5 C865.5,619.5 864.5,623.1 861.5,630.0 C858.5,636.9 854.5,645.9 850.9,653.9 C847.3,661.9 843.7,669.8 839.7,677.8 C835.7,685.8 831.0,693.8 827.0,701.8 C823.0,709.8 819.5,717.7 815.8,725.7 C812.1,733.7 808.6,741.6 804.6,749.6 C800.6,757.6 795.6,766.3 791.9,773.5 C788.2,780.7 784.9,787.5 782.3,792.7 C779.6,798.0 777.5,801.8 776.0,805.0 C774.5,808.2 773.7,810.1 773.2,812.0 C772.7,813.9 772.8,815.5 772.8,816.6 C772.8,817.7 773.4,818.2 773.5,818.5 C773.6,818.8 773.2,818.7 773.5,818.5 C773.8,818.3 774.4,818.1 775.5,817.3 C776.6,816.5 777.8,815.5 780.0,813.5 C782.2,811.5 784.6,809.4 788.7,805.4 C792.8,801.4 799.3,794.8 804.6,789.5 C809.9,784.2 815.3,780.1 820.6,773.5 C825.9,766.9 831.7,757.6 836.5,749.6 C841.3,741.6 845.6,733.7 849.3,725.7 C853.0,717.7 855.7,709.8 858.9,701.8 C862.1,693.8 865.8,684.4 868.4,677.8 C871.0,671.1 872.7,667.2 874.8,661.9 C876.9,656.6 879.2,651.2 881.2,645.9 C883.2,640.6 884.5,636.2 886.5,630.0 C888.5,623.8 890.4,616.5 893.3,608.9 C896.2,601.3 900.4,592.6 903.9,584.4 C907.4,576.2 911.5,566.8 914.4,559.8 C917.3,552.8 918.5,549.9 921.4,542.3 C924.3,534.7 928.4,523.3 931.9,514.2 C935.4,505.1 939.0,496.4 942.5,487.9 C946.0,479.4 949.6,470.6 953.0,463.3 C956.4,456.0 961.3,447.6 962.6,444.0 C963.9,440.4 961.2,441.8 960.9,441.4 C960.6,441.0 961.3,441.2 960.9,441.4 Z" fill="#fff"/>
<path d="M960.9,854.5 C960.5,854.6 961.0,851.5 958.2,855.4 C955.4,859.4 948.3,871.5 944.2,878.2 C940.1,884.9 938.1,887.8 933.7,895.7 C929.3,903.6 922.3,916.8 917.9,925.6 C913.5,934.4 911.5,939.9 907.4,948.4 C903.3,956.9 897.7,967.6 893.3,976.4 C888.9,985.2 885.2,992.8 881.1,1001.0 C877.0,1009.2 872.1,1018.6 868.8,1025.6 C865.5,1032.6 864.5,1036.2 861.5,1043.1 C858.5,1050.0 854.5,1059.0 850.9,1067.0 C847.3,1075.0 843.7,1082.9 839.7,1090.9 C835.7,1098.9 831.0,1106.9 827.0,1114.9 C823.0,1122.9 819.5,1130.8 815.8,1138.8 C812.1,1146.8 808.6,1154.7 804.6,1162.7 C800.6,1170.7 795.6,1179.4 791.9,1186.6 C788.2,1193.8 784.9,1200.6 782.3,1205.8 C779.6,1211.1 777.5,1214.9 776.0,1218.1 C774.5,1221.3 773.7,1223.2 773.2,1225.1 C772.7,1227.0 772.8,1228.6 772.8,1229.7 C772.8,1230.8 773.4,1231.3 773.5,1231.6 C773.6,1231.9 773.2,1231.8 773.5,1231.6 C773.8,1231.4 774.4,1231.2 775.5,1230.4 C776.6,1229.6 777.8,1228.6 780.0,1226.6 C782.2,1224.6 784.6,1222.5 788.7,1218.5 C792.8,1214.5 799.3,1207.9 804.6,1202.6 C809.9,1197.3 815.3,1193.2 820.6,1186.6 C825.9,1179.9 831.7,1170.7 836.5,1162.7 C841.3,1154.7 845.6,1146.8 849.3,1138.8 C853.0,1130.8 855.7,1122.9 858.9,1114.9 C862.1,1106.9 865.8,1097.6 868.4,1090.9 C871.0,1084.2 872.7,1080.3 874.8,1075.0 C876.9,1069.7 879.2,1064.3 881.2,1059.0 C883.2,1053.7 884.5,1049.3 886.5,1043.1 C888.5,1036.9 890.4,1029.6 893.3,1022.0 C896.2,1014.4 900.4,1005.7 903.9,997.5 C907.4,989.3 911.5,979.9 914.4,972.9 C917.3,965.9 918.5,963.0 921.4,955.4 C924.3,947.8 928.4,936.4 931.9,927.3 C935.4,918.2 939.0,909.5 942.5,901.0 C946.0,892.5 949.6,883.7 953.0,876.4 C956.4,869.1 961.3,860.8 962.6,857.1 C963.9,853.5 961.2,854.9 960.9,854.5 C960.6,854.1 961.3,854.4 960.9,854.5 Z" fill="#fff"/>
</g>
<clipPath id="vc"><rect x="1501.0" y="65.5" width="720.0" height="1041.0"/></clipPath>
<clipPath id="vcr"><rect x="1501.0" y="65.5" width="297.0" height="1041.0"/></clipPath>
<clipPath id="vcs"><rect x="1798.0" y="65.5" width="423.0" height="1041.0"/></clipPath>
<filter id="blur8" x="-10%" y="-10%" width="120%" height="120%"><feGaussianBlur stdDeviation="9"/></filter>
<filter id="blur5" x="-10%" y="-10%" width="120%" height="120%"><feGaussianBlur stdDeviation="5"/></filter>
<linearGradient id="rg" gradientUnits="userSpaceOnUse" x1="1501" y1="0" x2="1798" y2="0"><stop offset="0" stop-color="#00a4ff"/><stop offset="0.2" stop-color="#00c6ff"/><stop offset="0.42" stop-color="#00e8ff"/><stop offset="0.62" stop-color="#00fae0"/><stop offset="0.82" stop-color="#00ffb0"/><stop offset="1" stop-color="#00ff80"/></linearGradient>
<linearGradient id="sg" gradientUnits="userSpaceOnUse" spreadMethod="repeat" x1="1828.0" y1="785.0" x2="1984.6" y2="859.6"><stop offset="0" stop-color="#38f000"/><stop offset="0.07" stop-color="#48f200"/><stop offset="0.17" stop-color="#a8ff00"/><stop offset="0.3" stop-color="#e8f800"/><stop offset="0.41" stop-color="#ffd200"/><stop offset="0.5" stop-color="#ffb800"/><stop offset="0.59" stop-color="#ffd200"/><stop offset="0.7" stop-color="#eaf800"/><stop offset="0.82" stop-color="#b0ff00"/><stop offset="0.93" stop-color="#58f000"/><stop offset="1" stop-color="#38f000"/></linearGradient>
<g clip-path="url(#vc)">
<g clip-path="url(#vcr)">
<rect x="1501.0" y="65.5" width="297.0" height="1041.0" fill="url(#rg)"/>
<g filter="url(#blur8)"><polygon points="1501.0,-192.5 1515.1,-189.9 1529.3,-185.7 1543.4,-180.1 1557.6,-173.3 1571.7,-165.5 1585.9,-156.9 1600.0,-147.6 1600.0,-112.3 1585.9,-118.1 1571.7,-123.2 1557.6,-127.4 1543.4,-130.7 1529.3,-132.8 1515.1,-133.5 1501.0,-132.5" fill="#0088ff" opacity="0.6"/><polygon points="1700.0,-132.0 1714.3,-118.1 1728.6,-103.3 1742.9,-87.3 1757.1,-69.9 1771.4,-51.0 1785.7,-30.2 1800.0,-7.1 1800.0,39.9 1785.7,16.8 1771.4,-4.0 1757.1,-22.9 1742.9,-40.3 1728.6,-56.3 1714.3,-71.1 1700.0,-85.0" fill="#00ff30" opacity="0.85"/><polygon points="1501.0,-14.5 1515.1,-11.9 1529.3,-7.7 1543.4,-2.1 1557.6,4.7 1571.7,12.5 1585.9,21.1 1600.0,30.4 1600.0,65.7 1585.9,59.9 1571.7,54.8 1557.6,50.6 1543.4,47.3 1529.3,45.2 1515.1,44.5 1501.0,45.5" fill="#0088ff" opacity="0.6"/><polygon points="1700.0,46.0 1714.3,59.9 1728.6,74.7 1742.9,90.7 1757.1,108.1 1771.4,127.0 1785.7,147.8 1800.0,170.9 1800.0,217.9 1785.7,194.8 1771.4,174.0 1757.1,155.1 1742.9,137.7 1728.6,121.7 1714.3,106.9 1700.0,93.0" fill="#00ff30" opacity="0.85"/><polygon points="1501.0,163.5 1515.1,166.1 1529.3,170.3 1543.4,175.9 1557.6,182.7 1571.7,190.5 1585.9,199.1 1600.0,208.4 1600.0,243.7 1585.9,237.9 1571.7,232.8 1557.6,228.6 1543.4,225.3 1529.3,223.2 1515.1,222.5 1501.0,223.5" fill="#0088ff" opacity="0.6"/><polygon points="1700.0,224.0 1714.3,237.9 1728.6,252.7 1742.9,268.7 1757.1,286.1 1771.4,305.0 1785.7,325.8 1800.0,348.9 1800.0,395.9 1785.7,372.8 1771.4,352.0 1757.1,333.1 1742.9,315.7 1728.6,299.7 1714.3,284.9 1700.0,271.0" fill="#00ff30" opacity="0.85"/><polygon points="1501.0,341.5 1515.1,344.1 1529.3,348.3 1543.4,353.9 1557.6,360.7 1571.7,368.5 1585.9,377.1 1600.0,386.4 1600.0,421.7 1585.9,415.9 1571.7,410.8 1557.6,406.6 1543.4,403.3 1529.3,401.2 1515.1,400.5 1501.0,401.5" fill="#0088ff" opacity="0.6"/><polygon points="1700.0,402.0 1714.3,415.9 1728.6,430.7 1742.9,446.7 1757.1,464.1 1771.4,483.0 1785.7,503.8 1800.0,526.9 1800.0,573.9 1785.7,550.8 1771.4,530.0 1757.1,511.1 1742.9,493.7 1728.6,477.7 1714.3,462.9 1700.0,449.0" fill="#00ff30" opacity="0.85"/><polygon points="1501.0,519.5 1515.1,522.1 1529.3,526.3 1543.4,531.9 1557.6,538.7 1571.7,546.5 1585.9,555.1 1600.0,564.4 1600.0,599.7 1585.9,593.9 1571.7,588.8 1557.6,584.6 1543.4,581.3 1529.3,579.2 1515.1,578.5 1501.0,579.5" fill="#0088ff" opacity="0.6"/><polygon points="1700.0,580.0 1714.3,593.9 1728.6,608.7 1742.9,624.7 1757.1,642.1 1771.4,661.0 1785.7,681.8 1800.0,704.9 1800.0,751.9 1785.7,728.8 1771.4,708.0 1757.1,689.1 1742.9,671.7 1728.6,655.7 1714.3,640.9 1700.0,627.0" fill="#00ff30" opacity="0.85"/><polygon points="1501.0,697.5 1515.1,700.1 1529.3,704.3 1543.4,709.9 1557.6,716.7 1571.7,724.5 1585.9,733.1 1600.0,742.4 1600.0,777.7 1585.9,771.9 1571.7,766.8 1557.6,762.6 1543.4,759.3 1529.3,757.2 1515.1,756.5 1501.0,757.5" fill="#0088ff" opacity="0.6"/><polygon points="1700.0,758.0 1714.3,771.9 1728.6,786.7 1742.9,802.7 1757.1,820.1 1771.4,839.0 1785.7,859.8 1800.0,882.9 1800.0,929.9 1785.7,906.8 1771.4,886.0 1757.1,867.1 1742.9,849.7 1728.6,833.7 1714.3,818.9 1700.0,805.0" fill="#00ff30" opacity="0.85"/><polygon points="1501.0,875.5 1515.1,878.1 1529.3,882.3 1543.4,887.9 1557.6,894.7 1571.7,902.5 1585.9,911.1 1600.0,920.4 1600.0,955.7 1585.9,949.9 1571.7,944.8 1557.6,940.6 1543.4,937.3 1529.3,935.2 1515.1,934.5 1501.0,935.5" fill="#0088ff" opacity="0.6"/><polygon points="1700.0,936.0 1714.3,949.9 1728.6,964.7 1742.9,980.7 1757.1,998.1 1771.4,1017.0 1785.7,1037.8 1800.0,1060.9 1800.0,1107.9 1785.7,1084.8 1771.4,1064.0 1757.1,1045.1 1742.9,1027.7 1728.6,1011.7 1714.3,996.9 1700.0,983.0" fill="#00ff30" opacity="0.85"/><polygon points="1501.0,1053.5 1515.1,1056.1 1529.3,1060.3 1543.4,1065.9 1557.6,1072.7 1571.7,1080.5 1585.9,1089.1 1600.0,1098.4 1600.0,1133.7 1585.9,1127.9 1571.7,1122.8 1557.6,1118.6 1543.4,1115.3 1529.3,1113.2 1515.1,1112.5 1501.0,1113.5" fill="#0088ff" opacity="0.6"/><polygon points="1700.0,1114.0 1714.3,1127.9 1728.6,1142.7 1742.9,1158.7 1757.1,1176.1 1771.4,1195.0 1785.7,1215.8 1800.0,1238.9 1800.0,1285.9 1785.7,1262.8 1771.4,1242.0 1757.1,1223.1 1742.9,1205.7 1728.6,1189.7 1714.3,1174.9 1700.0,1161.0" fill="#00ff30" opacity="0.85"/><polygon points="1501.0,1231.5 1515.1,1234.1 1529.3,1238.3 1543.4,1243.9 1557.6,1250.7 1571.7,1258.5 1585.9,1267.1 1600.0,1276.4 1600.0,1311.7 1585.9,1305.9 1571.7,1300.8 1557.6,1296.6 1543.4,1293.3 1529.3,1291.2 1515.1,1290.5 1501.0,1291.5" fill="#0088ff" opacity="0.6"/><polygon points="1700.0,1292.0 1714.3,1305.9 1728.6,1320.7 1742.9,1336.7 1757.1,1354.1 1771.4,1373.0 1785.7,1393.8 1800.0,1416.9 1800.0,1463.9 1785.7,1440.8 1771.4,1420.0 1757.1,1401.1 1742.9,1383.7 1728.6,1367.7 1714.3,1352.9 1700.0,1339.0" fill="#00ff30" opacity="0.85"/></g>
</g>
<g clip-path="url(#vcs)">
<rect x="1798.0" y="65.5" width="423.0" height="1041.0" fill="#c0ff00"/>
<g filter="url(#blur8)"><polygon points="1778.0,-402.2 1870.0,-367.2 1935.0,-287.2 1905.0,-212.2 1870.0,-132.2 1842.0,-62.2 1826.0,-12.2 1778.0,2.8" fill="#30f020"/><ellipse cx="1814.0" cy="-52.200000000000045" rx="18" ry="45" fill="#00ffc0" transform="rotate(25 1814.0 -52.200000000000045)"/><polyline points="1828.0,-22.2 1878.0,-58.2 1922.0,-94.2 1968.0,-130.2 2008.0,-172.2 2043.0,-222.2 2078.0,-277.2 2103.0,-332.2 2128.0,-397.2 2153.0,-472.2 2178.0,-552.2 2208.0,-652.2 2238.0,-752.2" fill="none" stroke="#f4f400" stroke-width="95" stroke-linejoin="round"/><polyline points="1828.0,-22.2 1878.0,-58.2 1922.0,-94.2 1968.0,-130.2 2008.0,-172.2 2043.0,-222.2 2078.0,-277.2 2103.0,-332.2 2128.0,-397.2" fill="none" stroke="#ffc800" stroke-width="80" stroke-linejoin="round" stroke-linecap="round"/><polyline points="1878.0,-58.2 1922.0,-94.2 1968.0,-130.2 2008.0,-172.2 2043.0,-222.2 2078.0,-277.2 2103.0,-332.2 2128.0,-397.2" fill="none" stroke="#ffb400" stroke-width="46" stroke-linejoin="round" stroke-linecap="round"/><polyline points="1931.0,-222.2 1960.0,-312.2 2005.7,-381.3 2046.7,-486.3 2093.7,-586.3 2140.7,-686.3 2187.7,-786.3 2259.7,-936.3" fill="none" stroke="#7cf800" stroke-width="52" stroke-linejoin="round"/><polyline points="1931.0,-222.2 1960.0,-312.2 2005.7,-381.3 2046.7,-486.3 2093.7,-586.3 2140.7,-686.3 2187.7,-786.3 2259.7,-936.3" fill="none" stroke="#28ee00" stroke-width="26" stroke-linejoin="round"/><polygon points="1778.0,1.4 1870.0,36.4 1935.0,116.4 1905.0,191.4 1870.0,271.4 1842.0,341.4 1826.0,391.4 1778.0,406.4" fill="#30f020"/><ellipse cx="1814.0" cy="351.4" rx="18" ry="45" fill="#00ffc0" transform="rotate(25 1814.0 351.4)"/><polyline points="1828.0,381.4 1878.0,345.4 1922.0,309.4 1968.0,273.4 2008.0,231.4 2043.0,181.4 2078.0,126.4 2103.0,71.4 2128.0,6.4 2153.0,-68.6 2178.0,-148.6 2208.0,-248.6 2238.0,-348.6" fill="none" stroke="#f4f400" stroke-width="95" stroke-linejoin="round"/><polyline points="1828.0,381.4 1878.0,345.4 1922.0,309.4 1968.0,273.4 2008.0,231.4 2043.0,181.4 2078.0,126.4 2103.0,71.4 2128.0,6.4" fill="none" stroke="#ffc800" stroke-width="80" stroke-linejoin="round" stroke-linecap="round"/><polyline points="1878.0,345.4 1922.0,309.4 1968.0,273.4 2008.0,231.4 2043.0,181.4 2078.0,126.4 2103.0,71.4 2128.0,6.4" fill="none" stroke="#ffb400" stroke-width="46" stroke-linejoin="round" stroke-linecap="round"/><polyline points="1931.0,181.4 1960.0,91.4 2005.7,22.3 2046.7,-82.7 2093.7,-182.7 2140.7,-282.7 2187.7,-382.7 2259.7,-532.7" fill="none" stroke="#7cf800" stroke-width="52" stroke-linejoin="round"/><polyline points="1931.0,181.4 1960.0,91.4 2005.7,22.3 2046.7,-82.7 2093.7,-182.7 2140.7,-282.7 2187.7,-382.7 2259.7,-532.7" fill="none" stroke="#28ee00" stroke-width="26" stroke-linejoin="round"/><polygon points="1778.0,405.0 1870.0,440.0 1935.0,520.0 1905.0,595.0 1870.0,675.0 1842.0,745.0 1826.0,795.0 1778.0,810.0" fill="#30f020"/><ellipse cx="1814.0" cy="755.0" rx="18" ry="45" fill="#00ffc0" transform="rotate(25 1814.0 755.0)"/><polyline points="1828.0,785.0 1878.0,749.0 1922.0,713.0 1968.0,677.0 2008.0,635.0 2043.0,585.0 2078.0,530.0 2103.0,475.0 2128.0,410.0 2153.0,335.0 2178.0,255.0 2208.0,155.0 2238.0,55.0" fill="none" stroke="#f4f400" stroke-width="95" stroke-linejoin="round"/><polyline points="1828.0,785.0 1878.0,749.0 1922.0,713.0 1968.0,677.0 2008.0,635.0 2043.0,585.0 2078.0,530.0 2103.0,475.0 2128.0,410.0" fill="none" stroke="#ffc800" stroke-width="80" stroke-linejoin="round" stroke-linecap="round"/><polyline points="1878.0,749.0 1922.0,713.0 1968.0,677.0 2008.0,635.0 2043.0,585.0 2078.0,530.0 2103.0,475.0 2128.0,410.0" fill="none" stroke="#ffb400" stroke-width="46" stroke-linejoin="round" stroke-linecap="round"/><polyline points="1931.0,585.0 1960.0,495.0 2005.7,425.9 2046.7,320.9 2093.7,220.9 2140.7,120.9 2187.7,20.9 2259.7,-129.1" fill="none" stroke="#7cf800" stroke-width="52" stroke-linejoin="round"/><polyline points="1931.0,585.0 1960.0,495.0 2005.7,425.9 2046.7,320.9 2093.7,220.9 2140.7,120.9 2187.7,20.9 2259.7,-129.1" fill="none" stroke="#28ee00" stroke-width="26" stroke-linejoin="round"/><polygon points="1778.0,808.6 1870.0,843.6 1935.0,923.6 1905.0,998.6 1870.0,1078.6 1842.0,1148.6 1826.0,1198.6 1778.0,1213.6" fill="#30f020"/><ellipse cx="1814.0" cy="1158.6" rx="18" ry="45" fill="#00ffc0" transform="rotate(25 1814.0 1158.6)"/><polyline points="1828.0,1188.6 1878.0,1152.6 1922.0,1116.6 1968.0,1080.6 2008.0,1038.6 2043.0,988.6 2078.0,933.6 2103.0,878.6 2128.0,813.6 2153.0,738.6 2178.0,658.6 2208.0,558.6 2238.0,458.6" fill="none" stroke="#f4f400" stroke-width="95" stroke-linejoin="round"/><polyline points="1828.0,1188.6 1878.0,1152.6 1922.0,1116.6 1968.0,1080.6 2008.0,1038.6 2043.0,988.6 2078.0,933.6 2103.0,878.6 2128.0,813.6" fill="none" stroke="#ffc800" stroke-width="80" stroke-linejoin="round" stroke-linecap="round"/><polyline points="1878.0,1152.6 1922.0,1116.6 1968.0,1080.6 2008.0,1038.6 2043.0,988.6 2078.0,933.6 2103.0,878.6 2128.0,813.6" fill="none" stroke="#ffb400" stroke-width="46" stroke-linejoin="round" stroke-linecap="round"/><polyline points="1931.0,988.6 1960.0,898.6 2005.7,829.5 2046.7,724.5 2093.7,624.5 2140.7,524.5 2187.7,424.5 2259.7,274.5" fill="none" stroke="#7cf800" stroke-width="52" stroke-linejoin="round"/><polyline points="1931.0,988.6 1960.0,898.6 2005.7,829.5 2046.7,724.5 2093.7,624.5 2140.7,524.5 2187.7,424.5 2259.7,274.5" fill="none" stroke="#28ee00" stroke-width="26" stroke-linejoin="round"/><polygon points="1778.0,1212.2 1870.0,1247.2 1935.0,1327.2 1905.0,1402.2 1870.0,1482.2 1842.0,1552.2 1826.0,1602.2 1778.0,1617.2" fill="#30f020"/><ellipse cx="1814.0" cy="1562.2" rx="18" ry="45" fill="#00ffc0" transform="rotate(25 1814.0 1562.2)"/><polyline points="1828.0,1592.2 1878.0,1556.2 1922.0,1520.2 1968.0,1484.2 2008.0,1442.2 2043.0,1392.2 2078.0,1337.2 2103.0,1282.2 2128.0,1217.2 2153.0,1142.2 2178.0,1062.2 2208.0,962.2 2238.0,862.2" fill="none" stroke="#f4f400" stroke-width="95" stroke-linejoin="round"/><polyline points="1828.0,1592.2 1878.0,1556.2 1922.0,1520.2 1968.0,1484.2 2008.0,1442.2 2043.0,1392.2 2078.0,1337.2 2103.0,1282.2 2128.0,1217.2" fill="none" stroke="#ffc800" stroke-width="80" stroke-linejoin="round" stroke-linecap="round"/><polyline points="1878.0,1556.2 1922.0,1520.2 1968.0,1484.2 2008.0,1442.2 2043.0,1392.2 2078.0,1337.2 2103.0,1282.2 2128.0,1217.2" fill="none" stroke="#ffb400" stroke-width="46" stroke-linejoin="round" stroke-linecap="round"/><polyline points="1931.0,1392.2 1960.0,1302.2 2005.7,1233.1 2046.7,1128.1 2093.7,1028.1 2140.7,928.1 2187.7,828.1 2259.7,678.1" fill="none" stroke="#7cf800" stroke-width="52" stroke-linejoin="round"/><polyline points="1931.0,1392.2 1960.0,1302.2 2005.7,1233.1 2046.7,1128.1 2093.7,1028.1 2140.7,928.1 2187.7,828.1 2259.7,678.1" fill="none" stroke="#28ee00" stroke-width="26" stroke-linejoin="round"/></g>
</g>
<defs><path id="rsl0" d="M1499.0,0.0 C1500.9,0.3 1506.5,0.9 1510.2,1.7 C1513.9,2.4 1517.6,3.3 1521.4,4.4 C1525.1,5.5 1528.8,6.8 1532.5,8.1 C1536.3,9.5 1540.0,11.1 1543.7,12.7 C1547.5,14.4 1551.2,16.2 1554.9,18.0 C1558.6,19.9 1562.4,21.9 1566.1,24.0 C1569.8,26.1 1573.5,28.3 1577.3,30.5 C1581.0,32.8 1584.7,35.1 1588.5,37.5 C1592.2,39.9 1595.9,42.4 1599.6,44.9 C1603.4,47.4 1607.1,50.0 1610.8,52.7 C1614.5,55.3 1620.1,59.4 1622.0,60.8"/><path id="rsl1" d="M1618.0,57.8 C1619.4,58.9 1623.7,62.0 1626.5,64.1 C1629.4,66.3 1632.2,68.4 1635.1,70.6 C1637.9,72.8 1640.8,75.0 1643.6,77.2 C1646.5,79.5 1649.3,81.8 1652.2,84.1 C1655.0,86.3 1657.9,88.7 1660.7,91.0 C1663.6,93.4 1666.4,95.8 1669.3,98.2 C1672.1,100.6 1675.0,103.1 1677.8,105.5 C1680.7,108.0 1683.5,110.5 1686.4,113.1 C1689.2,115.7 1692.1,118.3 1694.9,120.9 C1697.8,123.6 1700.6,126.2 1703.5,129.0 C1706.3,131.7 1710.6,135.9 1712.0,137.3"/><path id="rsl2" d="M1708.0,133.4 C1709.4,134.8 1713.6,138.9 1716.4,141.7 C1719.2,144.5 1721.9,147.4 1724.7,150.3 C1727.5,153.3 1730.3,156.3 1733.1,159.4 C1735.9,162.4 1738.7,165.6 1741.5,168.8 C1744.2,172.0 1747.0,175.3 1749.8,178.7 C1752.6,182.1 1755.4,185.5 1758.2,189.1 C1761.0,192.6 1763.8,196.3 1766.5,200.0 C1769.3,203.8 1772.1,207.6 1774.9,211.6 C1777.7,215.6 1780.5,219.6 1783.3,223.8 C1786.1,228.0 1788.8,232.4 1791.6,236.8 C1794.4,241.3 1798.6,248.3 1800.0,250.6"/>
<path id="ssl" d="M1798.0,-0.0 C1802.9,-6.3 1817.7,-24.3 1827.5,-37.9 C1837.4,-51.4 1847.2,-65.8 1857.0,-81.2 C1866.9,-96.5 1876.7,-112.8 1886.6,-129.9 C1896.4,-147.1 1906.2,-165.2 1916.1,-184.2 C1925.9,-203.2 1935.7,-223.5 1945.6,-243.9 C1955.4,-264.3 1965.3,-285.8 1975.1,-306.7 C1984.9,-327.7 1994.8,-348.6 2004.6,-369.6 C2014.5,-390.6 2024.3,-411.5 2034.1,-432.5 C2044.0,-453.4 2053.8,-474.4 2063.7,-495.3 C2073.5,-516.3 2083.3,-537.3 2093.2,-558.2 C2103.0,-579.2 2112.9,-600.1 2122.7,-621.1 C2132.5,-642.0 2142.4,-663.0 2152.2,-684.0 C2162.0,-704.9 2171.9,-725.9 2181.7,-746.8 C2191.6,-767.8 2203.9,-794.0 2211.2,-809.7 C2218.6,-825.4 2223.5,-835.9 2226.0,-841.1"/>
<path id="ssl2" d="M1798.0,-0.0 C1801.1,-3.9 1810.6,-15.4 1816.9,-23.6 C1823.2,-31.8 1829.5,-40.4 1835.8,-49.4 C1842.1,-58.4 1848.4,-67.8 1854.7,-77.5 C1861.0,-87.2 1867.3,-97.3 1873.6,-107.8 C1879.9,-118.3 1886.1,-129.1 1892.4,-140.3 C1898.7,-151.6 1905.0,-163.1 1911.3,-175.1 C1917.6,-187.1 1923.9,-199.4 1930.2,-212.1 C1936.5,-224.8 1942.8,-238.1 1949.1,-251.4 C1955.4,-264.6 1964.9,-284.9 1968.0,-291.6"/></defs>
<g clip-path="url(#vcr)" fill="none" stroke="#fff"><use href="#rsl0" y="-420.0" stroke-width="2.0"/><use href="#rsl1" y="-420.0" stroke-width="1.5"/><use href="#rsl2" y="-420.0" stroke-width="1.0"/><use href="#rsl0" y="-411.4" stroke-width="5.2"/><use href="#rsl1" y="-411.4" stroke-width="4.0"/><use href="#rsl2" y="-411.4" stroke-width="2.7"/><use href="#rsl0" y="-403.2" stroke-width="2.0"/><use href="#rsl1" y="-403.2" stroke-width="1.5"/><use href="#rsl2" y="-403.2" stroke-width="1.0"/><use href="#rsl0" y="-392.5" stroke-width="2.0"/><use href="#rsl1" y="-392.5" stroke-width="1.5"/><use href="#rsl2" y="-392.5" stroke-width="1.0"/><use href="#rsl0" y="-385.7" stroke-width="14.3"/><use href="#rsl1" y="-385.7" stroke-width="11.0"/><use href="#rsl2" y="-385.7" stroke-width="7.5"/><use href="#rsl0" y="-369.3" stroke-width="2.6"/><use href="#rsl1" y="-369.3" stroke-width="2.0"/><use href="#rsl2" y="-369.3" stroke-width="1.4"/><use href="#rsl0" y="-360.3" stroke-width="5.2"/><use href="#rsl1" y="-360.3" stroke-width="4.0"/><use href="#rsl2" y="-360.3" stroke-width="2.7"/><use href="#rsl0" y="-350.9" stroke-width="2.0"/><use href="#rsl1" y="-350.9" stroke-width="1.5"/><use href="#rsl2" y="-350.9" stroke-width="1.0"/><use href="#rsl0" y="-340.8" stroke-width="5.2"/><use href="#rsl1" y="-340.8" stroke-width="4.0"/><use href="#rsl2" y="-340.8" stroke-width="2.7"/><use href="#rsl0" y="-330.3" stroke-width="10.4"/><use href="#rsl1" y="-330.3" stroke-width="8.0"/><use href="#rsl2" y="-330.3" stroke-width="5.4"/><use href="#rsl0" y="-316.5" stroke-width="14.3"/><use href="#rsl1" y="-316.5" stroke-width="11.0"/><use href="#rsl2" y="-316.5" stroke-width="7.5"/><use href="#rsl0" y="-302.3" stroke-width="5.2"/><use href="#rsl1" y="-302.3" stroke-width="4.0"/><use href="#rsl2" y="-302.3" stroke-width="2.7"/><use href="#rsl0" y="-291.8" stroke-width="2.6"/><use href="#rsl1" y="-291.8" stroke-width="2.0"/><use href="#rsl2" y="-291.8" stroke-width="1.4"/><use href="#rsl0" y="-282.4" stroke-width="2.6"/><use href="#rsl1" y="-282.4" stroke-width="2.0"/><use href="#rsl2" y="-282.4" stroke-width="1.4"/><use href="#rsl0" y="-271.9" stroke-width="10.4"/><use href="#rsl1" y="-271.9" stroke-width="8.0"/><use href="#rsl2" y="-271.9" stroke-width="5.4"/><use href="#rsl0" y="-260.2" stroke-width="3.9"/><use href="#rsl1" y="-260.2" stroke-width="3.0"/><use href="#rsl2" y="-260.2" stroke-width="2.0"/><use href="#rsl0" y="-251.6" stroke-width="2.0"/><use href="#rsl1" y="-251.6" stroke-width="1.5"/><use href="#rsl2" y="-251.6" stroke-width="1.0"/><use href="#rsl0" y="-241.0" stroke-width="3.9"/><use href="#rsl1" y="-241.0" stroke-width="3.0"/><use href="#rsl2" y="-241.0" stroke-width="2.0"/><use href="#rsl0" y="-233.0" stroke-width="5.2"/><use href="#rsl1" y="-233.0" stroke-width="4.0"/><use href="#rsl2" y="-233.0" stroke-width="2.7"/><use href="#rsl0" y="-224.0" stroke-width="10.4"/><use href="#rsl1" y="-224.0" stroke-width="8.0"/><use href="#rsl2" y="-224.0" stroke-width="5.4"/><use href="#rsl0" y="-211.9" stroke-width="2.0"/><use href="#rsl1" y="-211.9" stroke-width="1.5"/><use href="#rsl2" y="-211.9" stroke-width="1.0"/><use href="#rsl0" y="-204.8" stroke-width="2.6"/><use href="#rsl1" y="-204.8" stroke-width="2.0"/><use href="#rsl2" y="-204.8" stroke-width="1.4"/><use href="#rsl0" y="-195.9" stroke-width="10.4"/><use href="#rsl1" y="-195.9" stroke-width="8.0"/><use href="#rsl2" y="-195.9" stroke-width="5.4"/><use href="#rsl0" y="-181.4" stroke-width="2.6"/><use href="#rsl1" y="-181.4" stroke-width="2.0"/><use href="#rsl2" y="-181.4" stroke-width="1.4"/><use href="#rsl0" y="-174.9" stroke-width="2.0"/><use href="#rsl1" y="-174.9" stroke-width="1.5"/><use href="#rsl2" y="-174.9" stroke-width="1.0"/><use href="#rsl0" y="-163.7" stroke-width="3.9"/><use href="#rsl1" y="-163.7" stroke-width="3.0"/><use href="#rsl2" y="-163.7" stroke-width="2.0"/><use href="#rsl0" y="-153.0" stroke-width="2.0"/><use href="#rsl1" y="-153.0" stroke-width="1.5"/><use href="#rsl2" y="-153.0" stroke-width="1.0"/><use href="#rsl0" y="-146.7" stroke-width="10.4"/><use href="#rsl1" y="-146.7" stroke-width="8.0"/><use href="#rsl2" y="-146.7" stroke-width="5.4"/><use href="#rsl0" y="-132.8" stroke-width="2.6"/><use href="#rsl1" y="-132.8" stroke-width="2.0"/><use href="#rsl2" y="-132.8" stroke-width="1.4"/><use href="#rsl0" y="-124.7" stroke-width="2.0"/><use href="#rsl1" y="-124.7" stroke-width="1.5"/><use href="#rsl2" y="-124.7" stroke-width="1.0"/><use href="#rsl0" y="-117.7" stroke-width="2.0"/><use href="#rsl1" y="-117.7" stroke-width="1.5"/><use href="#rsl2" y="-117.7" stroke-width="1.0"/><use href="#rsl0" y="-107.4" stroke-width="3.9"/><use href="#rsl1" y="-107.4" stroke-width="3.0"/><use href="#rsl2" y="-107.4" stroke-width="2.0"/><use href="#rsl0" y="-99.5" stroke-width="7.8"/><use href="#rsl1" y="-99.5" stroke-width="6.0"/><use href="#rsl2" y="-99.5" stroke-width="4.1"/><use href="#rsl0" y="-89.0" stroke-width="2.0"/><use href="#rsl1" y="-89.0" stroke-width="1.5"/><use href="#rsl2" y="-89.0" stroke-width="1.0"/><use href="#rsl0" y="-79.9" stroke-width="10.4"/><use href="#rsl1" y="-79.9" stroke-width="8.0"/><use href="#rsl2" y="-79.9" stroke-width="5.4"/><use href="#rsl0" y="-68.8" stroke-width="7.8"/><use href="#rsl1" y="-68.8" stroke-width="6.0"/><use href="#rsl2" y="-68.8" stroke-width="4.1"/><use href="#rsl0" y="-58.3" stroke-width="2.0"/><use href="#rsl1" y="-58.3" stroke-width="1.5"/><use href="#rsl2" y="-58.3" stroke-width="1.0"/><use href="#rsl0" y="-52.1" stroke-width="2.6"/><use href="#rsl1" y="-52.1" stroke-width="2.0"/><use href="#rsl2" y="-52.1" stroke-width="1.4"/><use href="#rsl0" y="-42.0" stroke-width="3.9"/><use href="#rsl1" y="-42.0" stroke-width="3.0"/><use href="#rsl2" y="-42.0" stroke-width="2.0"/><use href="#rsl0" y="-30.5" stroke-width="2.6"/><use href="#rsl1" y="-30.5" stroke-width="2.0"/><use href="#rsl2" y="-30.5" stroke-width="1.4"/><use href="#rsl0" y="-22.4" stroke-width="2.6"/><use href="#rsl1" y="-22.4" stroke-width="2.0"/><use href="#rsl2" y="-22.4" stroke-width="1.4"/><use href="#rsl0" y="-11.0" stroke-width="14.3"/><use href="#rsl1" y="-11.0" stroke-width="11.0"/><use href="#rsl2" y="-11.0" stroke-width="7.5"/><use href="#rsl0" y="3.9" stroke-width="3.9"/><use href="#rsl1" y="3.9" stroke-width="3.0"/><use href="#rsl2" y="3.9" stroke-width="2.0"/><use href="#rsl0" y="12.8" stroke-width="7.8"/><use href="#rsl1" y="12.8" stroke-width="6.0"/><use href="#rsl2" y="12.8" stroke-width="4.1"/><use href="#rsl0" y="22.5" stroke-width="2.0"/><use href="#rsl1" y="22.5" stroke-width="1.5"/><use href="#rsl2" y="22.5" stroke-width="1.0"/><use href="#rsl0" y="30.6" stroke-width="2.6"/><use href="#rsl1" y="30.6" stroke-width="2.0"/><use href="#rsl2" y="30.6" stroke-width="1.4"/><use href="#rsl0" y="41.3" stroke-width="7.8"/><use href="#rsl1" y="41.3" stroke-width="6.0"/><use href="#rsl2" y="41.3" stroke-width="4.1"/><use href="#rsl0" y="53.6" stroke-width="5.2"/><use href="#rsl1" y="53.6" stroke-width="4.0"/><use href="#rsl2" y="53.6" stroke-width="2.7"/><use href="#rsl0" y="65.0" stroke-width="7.8"/><use href="#rsl1" y="65.0" stroke-width="6.0"/><use href="#rsl2" y="65.0" stroke-width="4.1"/><use href="#rsl0" y="79.2" stroke-width="2.0"/><use href="#rsl1" y="79.2" stroke-width="1.5"/><use href="#rsl2" y="79.2" stroke-width="1.0"/><use href="#rsl0" y="88.4" stroke-width="2.0"/><use href="#rsl1" y="88.4" stroke-width="1.5"/><use href="#rsl2" y="88.4" stroke-width="1.0"/><use href="#rsl0" y="96.8" stroke-width="7.8"/><use href="#rsl1" y="96.8" stroke-width="6.0"/><use href="#rsl2" y="96.8" stroke-width="4.1"/><use href="#rsl0" y="110.7" stroke-width="7.8"/><use href="#rsl1" y="110.7" stroke-width="6.0"/><use href="#rsl2" y="110.7" stroke-width="4.1"/><use href="#rsl0" y="120.4" stroke-width="2.6"/><use href="#rsl1" y="120.4" stroke-width="2.0"/><use href="#rsl2" y="120.4" stroke-width="1.4"/><use href="#rsl0" y="127.7" stroke-width="14.3"/><use href="#rsl1" y="127.7" stroke-width="11.0"/><use href="#rsl2" y="127.7" stroke-width="7.5"/><use href="#rsl0" y="141.7" stroke-width="2.6"/><use href="#rsl1" y="141.7" stroke-width="2.0"/><use href="#rsl2" y="141.7" stroke-width="1.4"/><use href="#rsl0" y="150.0" stroke-width="2.0"/><use href="#rsl1" y="150.0" stroke-width="1.5"/><use href="#rsl2" y="150.0" stroke-width="1.0"/><use href="#rsl0" y="160.5" stroke-width="5.2"/><use href="#rsl1" y="160.5" stroke-width="4.0"/><use href="#rsl2" y="160.5" stroke-width="2.7"/><use href="#rsl0" y="169.3" stroke-width="3.9"/><use href="#rsl1" y="169.3" stroke-width="3.0"/><use href="#rsl2" y="169.3" stroke-width="2.0"/><use href="#rsl0" y="176.9" stroke-width="5.2"/><use href="#rsl1" y="176.9" stroke-width="4.0"/><use href="#rsl2" y="176.9" stroke-width="2.7"/><use href="#rsl0" y="186.1" stroke-width="2.0"/><use href="#rsl1" y="186.1" stroke-width="1.5"/><use href="#rsl2" y="186.1" stroke-width="1.0"/><use href="#rsl0" y="192.8" stroke-width="5.2"/><use href="#rsl1" y="192.8" stroke-width="4.0"/><use href="#rsl2" y="192.8" stroke-width="2.7"/><use href="#rsl0" y="203.9" stroke-width="2.6"/><use href="#rsl1" y="203.9" stroke-width="2.0"/><use href="#rsl2" y="203.9" stroke-width="1.4"/><use href="#rsl0" y="213.7" stroke-width="2.6"/><use href="#rsl1" y="213.7" stroke-width="2.0"/><use href="#rsl2" y="213.7" stroke-width="1.4"/><use href="#rsl0" y="220.8" stroke-width="2.6"/><use href="#rsl1" y="220.8" stroke-width="2.0"/><use href="#rsl2" y="220.8" stroke-width="1.4"/><use href="#rsl0" y="229.3" stroke-width="10.4"/><use href="#rsl1" y="229.3" stroke-width="8.0"/><use href="#rsl2" y="229.3" stroke-width="5.4"/><use href="#rsl0" y="240.9" stroke-width="2.0"/><use href="#rsl1" y="240.9" stroke-width="1.5"/><use href="#rsl2" y="240.9" stroke-width="1.0"/><use href="#rsl0" y="249.8" stroke-width="14.3"/><use href="#rsl1" y="249.8" stroke-width="11.0"/><use href="#rsl2" y="249.8" stroke-width="7.5"/><use href="#rsl0" y="267.6" stroke-width="7.8"/><use href="#rsl1" y="267.6" stroke-width="6.0"/><use href="#rsl2" y="267.6" stroke-width="4.1"/><use href="#rsl0" y="277.4" stroke-width="7.8"/><use href="#rsl1" y="277.4" stroke-width="6.0"/><use href="#rsl2" y="277.4" stroke-width="4.1"/><use href="#rsl0" y="290.3" stroke-width="2.0"/><use href="#rsl1" y="290.3" stroke-width="1.5"/><use href="#rsl2" y="290.3" stroke-width="1.0"/><use href="#rsl0" y="298.8" stroke-width="2.0"/><use href="#rsl1" y="298.8" stroke-width="1.5"/><use href="#rsl2" y="298.8" stroke-width="1.0"/><use href="#rsl0" y="308.9" stroke-width="7.8"/><use href="#rsl1" y="308.9" stroke-width="6.0"/><use href="#rsl2" y="308.9" stroke-width="4.1"/><use href="#rsl0" y="322.4" stroke-width="7.8"/><use href="#rsl1" y="322.4" stroke-width="6.0"/><use href="#rsl2" y="322.4" stroke-width="4.1"/><use href="#rsl0" y="333.3" stroke-width="7.8"/><use href="#rsl1" y="333.3" stroke-width="6.0"/><use href="#rsl2" y="333.3" stroke-width="4.1"/><use href="#rsl0" y="344.0" stroke-width="2.0"/><use href="#rsl1" y="344.0" stroke-width="1.5"/><use href="#rsl2" y="344.0" stroke-width="1.0"/><use href="#rsl0" y="352.1" stroke-width="3.9"/><use href="#rsl1" y="352.1" stroke-width="3.0"/><use href="#rsl2" y="352.1" stroke-width="2.0"/><use href="#rsl0" y="360.8" stroke-width="5.2"/><use href="#rsl1" y="360.8" stroke-width="4.0"/><use href="#rsl2" y="360.8" stroke-width="2.7"/><use href="#rsl0" y="371.8" stroke-width="2.6"/><use href="#rsl1" y="371.8" stroke-width="2.0"/><use href="#rsl2" y="371.8" stroke-width="1.4"/><use href="#rsl0" y="381.4" stroke-width="2.6"/><use href="#rsl1" y="381.4" stroke-width="2.0"/><use href="#rsl2" y="381.4" stroke-width="1.4"/><use href="#rsl0" y="391.6" stroke-width="2.6"/><use href="#rsl1" y="391.6" stroke-width="2.0"/><use href="#rsl2" y="391.6" stroke-width="1.4"/><use href="#rsl0" y="402.1" stroke-width="3.9"/><use href="#rsl1" y="402.1" stroke-width="3.0"/><use href="#rsl2" y="402.1" stroke-width="2.0"/><use href="#rsl0" y="412.1" stroke-width="5.2"/><use href="#rsl1" y="412.1" stroke-width="4.0"/><use href="#rsl2" y="412.1" stroke-width="2.7"/><use href="#rsl0" y="422.7" stroke-width="2.6"/><use href="#rsl1" y="422.7" stroke-width="2.0"/><use href="#rsl2" y="422.7" stroke-width="1.4"/><use href="#rsl0" y="434.1" stroke-width="2.0"/><use href="#rsl1" y="434.1" stroke-width="1.5"/><use href="#rsl2" y="434.1" stroke-width="1.0"/><use href="#rsl0" y="441.8" stroke-width="5.2"/><use href="#rsl1" y="441.8" stroke-width="4.0"/><use href="#rsl2" y="441.8" stroke-width="2.7"/><use href="#rsl0" y="450.0" stroke-width="2.0"/><use href="#rsl1" y="450.0" stroke-width="1.5"/><use href="#rsl2" y="450.0" stroke-width="1.0"/><use href="#rsl0" y="460.1" stroke-width="7.8"/><use href="#rsl1" y="460.1" stroke-width="6.0"/><use href="#rsl2" y="460.1" stroke-width="4.1"/><use href="#rsl0" y="472.8" stroke-width="10.4"/><use href="#rsl1" y="472.8" stroke-width="8.0"/><use href="#rsl2" y="472.8" stroke-width="5.4"/><use href="#rsl0" y="487.6" stroke-width="2.6"/><use href="#rsl1" y="487.6" stroke-width="2.0"/><use href="#rsl2" y="487.6" stroke-width="1.4"/><use href="#rsl0" y="497.3" stroke-width="2.6"/><use href="#rsl1" y="497.3" stroke-width="2.0"/><use href="#rsl2" y="497.3" stroke-width="1.4"/><use href="#rsl0" y="507.5" stroke-width="3.9"/><use href="#rsl1" y="507.5" stroke-width="3.0"/><use href="#rsl2" y="507.5" stroke-width="2.0"/><use href="#rsl0" y="515.5" stroke-width="10.4"/><use href="#rsl1" y="515.5" stroke-width="8.0"/><use href="#rsl2" y="515.5" stroke-width="5.4"/><use href="#rsl0" y="530.0" stroke-width="7.8"/><use href="#rsl1" y="530.0" stroke-width="6.0"/><use href="#rsl2" y="530.0" stroke-width="4.1"/><use href="#rsl0" y="542.3" stroke-width="7.8"/><use href="#rsl1" y="542.3" stroke-width="6.0"/><use href="#rsl2" y="542.3" stroke-width="4.1"/><use href="#rsl0" y="554.0" stroke-width="5.2"/><use href="#rsl1" y="554.0" stroke-width="4.0"/><use href="#rsl2" y="554.0" stroke-width="2.7"/><use href="#rsl0" y="562.3" stroke-width="5.2"/><use href="#rsl1" y="562.3" stroke-width="4.0"/><use href="#rsl2" y="562.3" stroke-width="2.7"/><use href="#rsl0" y="574.4" stroke-width="7.8"/><use href="#rsl1" y="574.4" stroke-width="6.0"/><use href="#rsl2" y="574.4" stroke-width="4.1"/><use href="#rsl0" y="587.9" stroke-width="3.9"/><use href="#rsl1" y="587.9" stroke-width="3.0"/><use href="#rsl2" y="587.9" stroke-width="2.0"/><use href="#rsl0" y="599.6" stroke-width="2.0"/><use href="#rsl1" y="599.6" stroke-width="1.5"/><use href="#rsl2" y="599.6" stroke-width="1.0"/><use href="#rsl0" y="610.1" stroke-width="2.6"/><use href="#rsl1" y="610.1" stroke-width="2.0"/><use href="#rsl2" y="610.1" stroke-width="1.4"/><use href="#rsl0" y="617.1" stroke-width="5.2"/><use href="#rsl1" y="617.1" stroke-width="4.0"/><use href="#rsl2" y="617.1" stroke-width="2.7"/><use href="#rsl0" y="627.3" stroke-width="3.9"/><use href="#rsl1" y="627.3" stroke-width="3.0"/><use href="#rsl2" y="627.3" stroke-width="2.0"/><use href="#rsl0" y="638.8" stroke-width="2.0"/><use href="#rsl1" y="638.8" stroke-width="1.5"/><use href="#rsl2" y="638.8" stroke-width="1.0"/><use href="#rsl0" y="648.0" stroke-width="3.9"/><use href="#rsl1" y="648.0" stroke-width="3.0"/><use href="#rsl2" y="648.0" stroke-width="2.0"/><use href="#rsl0" y="657.9" stroke-width="3.9"/><use href="#rsl1" y="657.9" stroke-width="3.0"/><use href="#rsl2" y="657.9" stroke-width="2.0"/><use href="#rsl0" y="665.9" stroke-width="3.9"/><use href="#rsl1" y="665.9" stroke-width="3.0"/><use href="#rsl2" y="665.9" stroke-width="2.0"/><use href="#rsl0" y="677.4" stroke-width="2.0"/><use href="#rsl1" y="677.4" stroke-width="1.5"/><use href="#rsl2" y="677.4" stroke-width="1.0"/><use href="#rsl0" y="683.6" stroke-width="2.0"/><use href="#rsl1" y="683.6" stroke-width="1.5"/><use href="#rsl2" y="683.6" stroke-width="1.0"/><use href="#rsl0" y="692.0" stroke-width="14.3"/><use href="#rsl1" y="692.0" stroke-width="11.0"/><use href="#rsl2" y="692.0" stroke-width="7.5"/><use href="#rsl0" y="705.5" stroke-width="14.3"/><use href="#rsl1" y="705.5" stroke-width="11.0"/><use href="#rsl2" y="705.5" stroke-width="7.5"/><use href="#rsl0" y="721.4" stroke-width="2.0"/><use href="#rsl1" y="721.4" stroke-width="1.5"/><use href="#rsl2" y="721.4" stroke-width="1.0"/><use href="#rsl0" y="729.6" stroke-width="2.6"/><use href="#rsl1" y="729.6" stroke-width="2.0"/><use href="#rsl2" y="729.6" stroke-width="1.4"/><use href="#rsl0" y="739.7" stroke-width="5.2"/><use href="#rsl1" y="739.7" stroke-width="4.0"/><use href="#rsl2" y="739.7" stroke-width="2.7"/><use href="#rsl0" y="749.2" stroke-width="2.6"/><use href="#rsl1" y="749.2" stroke-width="2.0"/><use href="#rsl2" y="749.2" stroke-width="1.4"/><use href="#rsl0" y="760.0" stroke-width="7.8"/><use href="#rsl1" y="760.0" stroke-width="6.0"/><use href="#rsl2" y="760.0" stroke-width="4.1"/><use href="#rsl0" y="771.7" stroke-width="3.9"/><use href="#rsl1" y="771.7" stroke-width="3.0"/><use href="#rsl2" y="771.7" stroke-width="2.0"/><use href="#rsl0" y="782.6" stroke-width="14.3"/><use href="#rsl1" y="782.6" stroke-width="11.0"/><use href="#rsl2" y="782.6" stroke-width="7.5"/><use href="#rsl0" y="796.3" stroke-width="2.0"/><use href="#rsl1" y="796.3" stroke-width="1.5"/><use href="#rsl2" y="796.3" stroke-width="1.0"/><use href="#rsl0" y="804.2" stroke-width="3.9"/><use href="#rsl1" y="804.2" stroke-width="3.0"/><use href="#rsl2" y="804.2" stroke-width="2.0"/><use href="#rsl0" y="811.8" stroke-width="2.0"/><use href="#rsl1" y="811.8" stroke-width="1.5"/><use href="#rsl2" y="811.8" stroke-width="1.0"/><use href="#rsl0" y="819.0" stroke-width="3.9"/><use href="#rsl1" y="819.0" stroke-width="3.0"/><use href="#rsl2" y="819.0" stroke-width="2.0"/><use href="#rsl0" y="830.0" stroke-width="5.2"/><use href="#rsl1" y="830.0" stroke-width="4.0"/><use href="#rsl2" y="830.0" stroke-width="2.7"/><use href="#rsl0" y="838.1" stroke-width="2.0"/><use href="#rsl1" y="838.1" stroke-width="1.5"/><use href="#rsl2" y="838.1" stroke-width="1.0"/><use href="#rsl0" y="846.5" stroke-width="10.4"/><use href="#rsl1" y="846.5" stroke-width="8.0"/><use href="#rsl2" y="846.5" stroke-width="5.4"/><use href="#rsl0" y="862.1" stroke-width="2.6"/><use href="#rsl1" y="862.1" stroke-width="2.0"/><use href="#rsl2" y="862.1" stroke-width="1.4"/><use href="#rsl0" y="873.0" stroke-width="14.3"/><use href="#rsl1" y="873.0" stroke-width="11.0"/><use href="#rsl2" y="873.0" stroke-width="7.5"/><use href="#rsl0" y="888.3" stroke-width="7.8"/><use href="#rsl1" y="888.3" stroke-width="6.0"/><use href="#rsl2" y="888.3" stroke-width="4.1"/><use href="#rsl0" y="899.6" stroke-width="2.0"/><use href="#rsl1" y="899.6" stroke-width="1.5"/><use href="#rsl2" y="899.6" stroke-width="1.0"/><use href="#rsl0" y="908.6" stroke-width="2.0"/><use href="#rsl1" y="908.6" stroke-width="1.5"/><use href="#rsl2" y="908.6" stroke-width="1.0"/><use href="#rsl0" y="918.1" stroke-width="7.8"/><use href="#rsl1" y="918.1" stroke-width="6.0"/><use href="#rsl2" y="918.1" stroke-width="4.1"/><use href="#rsl0" y="932.1" stroke-width="3.9"/><use href="#rsl1" y="932.1" stroke-width="3.0"/><use href="#rsl2" y="932.1" stroke-width="2.0"/><use href="#rsl0" y="940.0" stroke-width="10.4"/><use href="#rsl1" y="940.0" stroke-width="8.0"/><use href="#rsl2" y="940.0" stroke-width="5.4"/><use href="#rsl0" y="955.3" stroke-width="14.3"/><use href="#rsl1" y="955.3" stroke-width="11.0"/><use href="#rsl2" y="955.3" stroke-width="7.5"/><use href="#rsl0" y="971.6" stroke-width="5.2"/><use href="#rsl1" y="971.6" stroke-width="4.0"/><use href="#rsl2" y="971.6" stroke-width="2.7"/><use href="#rsl0" y="981.4" stroke-width="2.0"/><use href="#rsl1" y="981.4" stroke-width="1.5"/><use href="#rsl2" y="981.4" stroke-width="1.0"/><use href="#rsl0" y="989.0" stroke-width="7.8"/><use href="#rsl1" y="989.0" stroke-width="6.0"/><use href="#rsl2" y="989.0" stroke-width="4.1"/><use href="#rsl0" y="1000.1" stroke-width="7.8"/><use href="#rsl1" y="1000.1" stroke-width="6.0"/><use href="#rsl2" y="1000.1" stroke-width="4.1"/><use href="#rsl0" y="1012.1" stroke-width="3.9"/><use href="#rsl1" y="1012.1" stroke-width="3.0"/><use href="#rsl2" y="1012.1" stroke-width="2.0"/><use href="#rsl0" y="1024.2" stroke-width="2.0"/><use href="#rsl1" y="1024.2" stroke-width="1.5"/><use href="#rsl2" y="1024.2" stroke-width="1.0"/><use href="#rsl0" y="1032.8" stroke-width="2.0"/><use href="#rsl1" y="1032.8" stroke-width="1.5"/><use href="#rsl2" y="1032.8" stroke-width="1.0"/><use href="#rsl0" y="1043.6" stroke-width="3.9"/><use href="#rsl1" y="1043.6" stroke-width="3.0"/><use href="#rsl2" y="1043.6" stroke-width="2.0"/><use href="#rsl0" y="1052.5" stroke-width="2.0"/><use href="#rsl1" y="1052.5" stroke-width="1.5"/><use href="#rsl2" y="1052.5" stroke-width="1.0"/><use href="#rsl0" y="1061.6" stroke-width="3.9"/><use href="#rsl1" y="1061.6" stroke-width="3.0"/><use href="#rsl2" y="1061.6" stroke-width="2.0"/><use href="#rsl0" y="1069.5" stroke-width="2.0"/><use href="#rsl1" y="1069.5" stroke-width="1.5"/><use href="#rsl2" y="1069.5" stroke-width="1.0"/><use href="#rsl0" y="1077.6" stroke-width="5.2"/><use href="#rsl1" y="1077.6" stroke-width="4.0"/><use href="#rsl2" y="1077.6" stroke-width="2.7"/><use href="#rsl0" y="1088.2" stroke-width="10.4"/><use href="#rsl1" y="1088.2" stroke-width="8.0"/><use href="#rsl2" y="1088.2" stroke-width="5.4"/></g>
<linearGradient id="mg" gradientUnits="userSpaceOnUse" x1="1798.0" y1="0" x2="1958.0" y2="0"><stop offset="0" stop-color="#fff"/><stop offset="0.45" stop-color="#fff" stop-opacity="0.8"/><stop offset="1" stop-color="#fff" stop-opacity="0"/></linearGradient>
<mask id="nm" maskUnits="userSpaceOnUse" x="1798.0" y="65.5" width="200" height="1041.0"><rect x="1798.0" y="65.5" width="200" height="1041.0" fill="url(#mg)"/></mask>
<g clip-path="url(#vcs)" fill="none" stroke="#fff"><g mask="url(#nm)"><use href="#ssl2" y="60.0" stroke-width="12.0"/><use href="#ssl2" y="93.8" stroke-width="5.5"/><use href="#ssl2" y="117.8" stroke-width="5.5"/><use href="#ssl2" y="139.8" stroke-width="4.6"/><use href="#ssl2" y="167.7" stroke-width="5.5"/><use href="#ssl2" y="183.8" stroke-width="5.5"/><use href="#ssl2" y="210.9" stroke-width="5.5"/><use href="#ssl2" y="232.3" stroke-width="6.4"/><use href="#ssl2" y="250.9" stroke-width="4.6"/><use href="#ssl2" y="275.6" stroke-width="6.4"/><use href="#ssl2" y="305.5" stroke-width="5.5"/><use href="#ssl2" y="333.6" stroke-width="4.6"/><use href="#ssl2" y="349.3" stroke-width="6.4"/><use href="#ssl2" y="368.9" stroke-width="4.6"/><use href="#ssl2" y="386.1" stroke-width="5.5"/><use href="#ssl2" y="407.1" stroke-width="6.4"/><use href="#ssl2" y="437.3" stroke-width="5.5"/><use href="#ssl2" y="455.9" stroke-width="6.4"/><use href="#ssl2" y="471.9" stroke-width="5.5"/><use href="#ssl2" y="492.6" stroke-width="5.5"/><use href="#ssl2" y="509.0" stroke-width="6.4"/><use href="#ssl2" y="535.0" stroke-width="8.6"/><use href="#ssl2" y="567.3" stroke-width="5.5"/><use href="#ssl2" y="593.4" stroke-width="5.5"/><use href="#ssl2" y="612.5" stroke-width="12.0"/><use href="#ssl2" y="643.4" stroke-width="12.0"/><use href="#ssl2" y="677.5" stroke-width="12.0"/><use href="#ssl2" y="698.6" stroke-width="4.6"/><use href="#ssl2" y="717.0" stroke-width="5.5"/><use href="#ssl2" y="743.6" stroke-width="5.5"/><use href="#ssl2" y="767.4" stroke-width="8.6"/><use href="#ssl2" y="785.5" stroke-width="6.4"/><use href="#ssl2" y="802.3" stroke-width="5.5"/><use href="#ssl2" y="829.4" stroke-width="8.6"/><use href="#ssl2" y="852.9" stroke-width="5.5"/><use href="#ssl2" y="881.8" stroke-width="5.5"/><use href="#ssl2" y="897.9" stroke-width="5.5"/><use href="#ssl2" y="913.8" stroke-width="8.6"/><use href="#ssl2" y="932.8" stroke-width="12.0"/><use href="#ssl2" y="957.2" stroke-width="5.5"/><use href="#ssl2" y="982.1" stroke-width="5.5"/><use href="#ssl2" y="1003.8" stroke-width="4.6"/><use href="#ssl2" y="1025.2" stroke-width="4.6"/><use href="#ssl2" y="1044.0" stroke-width="12.0"/><use href="#ssl2" y="1067.5" stroke-width="5.5"/><use href="#ssl2" y="1094.0" stroke-width="12.0"/><use href="#ssl2" y="1117.7" stroke-width="5.5"/><use href="#ssl2" y="1144.8" stroke-width="8.6"/><use href="#ssl2" y="1171.6" stroke-width="4.6"/><use href="#ssl2" y="1189.7" stroke-width="8.6"/><use href="#ssl2" y="1218.0" stroke-width="12.0"/><use href="#ssl2" y="1249.5" stroke-width="5.5"/><use href="#ssl2" y="1267.2" stroke-width="12.0"/><use href="#ssl2" y="1297.3" stroke-width="6.4"/><use href="#ssl2" y="1324.2" stroke-width="5.5"/><use href="#ssl2" y="1345.3" stroke-width="6.4"/><use href="#ssl2" y="1369.0" stroke-width="8.6"/><use href="#ssl2" y="1401.0" stroke-width="12.0"/><use href="#ssl2" y="1426.2" stroke-width="5.5"/><use href="#ssl2" y="1456.6" stroke-width="5.5"/><use href="#ssl2" y="1485.0" stroke-width="4.6"/><use href="#ssl2" y="1507.5" stroke-width="6.4"/><use href="#ssl2" y="1536.4" stroke-width="12.0"/><use href="#ssl2" y="1557.9" stroke-width="6.4"/><use href="#ssl2" y="1583.9" stroke-width="4.6"/><use href="#ssl2" y="1612.5" stroke-width="6.4"/><use href="#ssl2" y="1643.8" stroke-width="4.6"/><use href="#ssl2" y="1667.4" stroke-width="5.5"/><use href="#ssl2" y="1693.3" stroke-width="6.4"/><use href="#ssl2" y="1717.5" stroke-width="5.5"/><use href="#ssl2" y="1741.2" stroke-width="5.5"/><use href="#ssl2" y="1771.0" stroke-width="5.5"/><use href="#ssl2" y="1794.2" stroke-width="5.5"/><use href="#ssl2" y="1813.9" stroke-width="12.0"/><use href="#ssl2" y="1839.9" stroke-width="12.0"/><use href="#ssl2" y="1868.4" stroke-width="12.0"/><use href="#ssl2" y="1892.1" stroke-width="12.0"/><use href="#ssl2" y="1925.4" stroke-width="6.4"/><use href="#ssl2" y="1952.8" stroke-width="8.6"/><use href="#ssl2" y="1976.9" stroke-width="6.4"/><use href="#ssl2" y="1996.6" stroke-width="4.6"/><use href="#ssl2" y="2022.6" stroke-width="5.5"/><use href="#ssl2" y="2052.7" stroke-width="5.5"/><use href="#ssl2" y="2081.4" stroke-width="12.0"/><use href="#ssl2" y="2116.8" stroke-width="12.0"/><use href="#ssl2" y="2140.3" stroke-width="4.6"/></g><use href="#ssl" y="60.0" stroke-width="7.0"/><use href="#ssl" y="93.8" stroke-width="1.6"/><use href="#ssl" y="117.8" stroke-width="1.6"/><use href="#ssl" y="139.8" stroke-width="1.2"/><use href="#ssl" y="167.7" stroke-width="1.6"/><use href="#ssl" y="183.8" stroke-width="1.6"/><use href="#ssl" y="210.9" stroke-width="1.6"/><use href="#ssl" y="232.3" stroke-width="2.0"/><use href="#ssl" y="250.9" stroke-width="1.2"/><use href="#ssl" y="275.6" stroke-width="2.0"/><use href="#ssl" y="305.5" stroke-width="1.6"/><use href="#ssl" y="333.6" stroke-width="1.2"/><use href="#ssl" y="349.3" stroke-width="2.0"/><use href="#ssl" y="368.9" stroke-width="1.2"/><use href="#ssl" y="386.1" stroke-width="1.6"/><use href="#ssl" y="407.1" stroke-width="2.0"/><use href="#ssl" y="437.3" stroke-width="1.6"/><use href="#ssl" y="455.9" stroke-width="2.0"/><use href="#ssl" y="471.9" stroke-width="1.6"/><use href="#ssl" y="492.6" stroke-width="1.6"/><use href="#ssl" y="509.0" stroke-width="2.0"/><use href="#ssl" y="535.0" stroke-width="3.0"/><use href="#ssl" y="567.3" stroke-width="1.6"/><use href="#ssl" y="593.4" stroke-width="1.6"/><use href="#ssl" y="612.5" stroke-width="5.0"/><use href="#ssl" y="643.4" stroke-width="7.0"/><use href="#ssl" y="677.5" stroke-width="5.0"/><use href="#ssl" y="698.6" stroke-width="1.2"/><use href="#ssl" y="717.0" stroke-width="1.6"/><use href="#ssl" y="743.6" stroke-width="1.6"/><use href="#ssl" y="767.4" stroke-width="3.0"/><use href="#ssl" y="785.5" stroke-width="2.0"/><use href="#ssl" y="802.3" stroke-width="1.6"/><use href="#ssl" y="829.4" stroke-width="3.0"/><use href="#ssl" y="852.9" stroke-width="1.6"/><use href="#ssl" y="881.8" stroke-width="1.6"/><use href="#ssl" y="897.9" stroke-width="1.6"/><use href="#ssl" y="913.8" stroke-width="3.0"/><use href="#ssl" y="932.8" stroke-width="7.0"/><use href="#ssl" y="957.2" stroke-width="1.6"/><use href="#ssl" y="982.1" stroke-width="1.6"/><use href="#ssl" y="1003.8" stroke-width="1.2"/><use href="#ssl" y="1025.2" stroke-width="1.2"/><use href="#ssl" y="1044.0" stroke-width="5.0"/><use href="#ssl" y="1067.5" stroke-width="1.6"/><use href="#ssl" y="1094.0" stroke-width="5.0"/><use href="#ssl" y="1117.7" stroke-width="1.6"/><use href="#ssl" y="1144.8" stroke-width="3.0"/><use href="#ssl" y="1171.6" stroke-width="1.2"/><use href="#ssl" y="1189.7" stroke-width="3.0"/><use href="#ssl" y="1218.0" stroke-width="5.0"/><use href="#ssl" y="1249.5" stroke-width="1.6"/><use href="#ssl" y="1267.2" stroke-width="5.0"/><use href="#ssl" y="1297.3" stroke-width="2.0"/><use href="#ssl" y="1324.2" stroke-width="1.6"/><use href="#ssl" y="1345.3" stroke-width="2.0"/><use href="#ssl" y="1369.0" stroke-width="3.0"/><use href="#ssl" y="1401.0" stroke-width="5.0"/><use href="#ssl" y="1426.2" stroke-width="1.6"/><use href="#ssl" y="1456.6" stroke-width="1.6"/><use href="#ssl" y="1485.0" stroke-width="1.2"/><use href="#ssl" y="1507.5" stroke-width="2.0"/><use href="#ssl" y="1536.4" stroke-width="5.0"/><use href="#ssl" y="1557.9" stroke-width="2.0"/><use href="#ssl" y="1583.9" stroke-width="1.2"/><use href="#ssl" y="1612.5" stroke-width="2.0"/><use href="#ssl" y="1643.8" stroke-width="1.2"/><use href="#ssl" y="1667.4" stroke-width="1.6"/><use href="#ssl" y="1693.3" stroke-width="2.0"/><use href="#ssl" y="1717.5" stroke-width="1.6"/><use href="#ssl" y="1741.2" stroke-width="1.6"/><use href="#ssl" y="1771.0" stroke-width="1.6"/><use href="#ssl" y="1794.2" stroke-width="1.6"/><use href="#ssl" y="1813.9" stroke-width="7.0"/><use href="#ssl" y="1839.9" stroke-width="5.0"/><use href="#ssl" y="1868.4" stroke-width="7.0"/><use href="#ssl" y="1892.1" stroke-width="7.0"/><use href="#ssl" y="1925.4" stroke-width="2.0"/><use href="#ssl" y="1952.8" stroke-width="3.0"/><use href="#ssl" y="1976.9" stroke-width="2.0"/><use href="#ssl" y="1996.6" stroke-width="1.2"/><use href="#ssl" y="2022.6" stroke-width="1.6"/><use href="#ssl" y="2052.7" stroke-width="1.6"/><use href="#ssl" y="2081.4" stroke-width="7.0"/><use href="#ssl" y="2116.8" stroke-width="7.0"/><use href="#ssl" y="2140.3" stroke-width="1.2"/></g>
<path d="M1502.2,-24.3 C1502.8,-24.7 1504.6,-26.1 1505.8,-26.5 C1506.9,-27.0 1508.1,-26.9 1509.3,-27.0 C1510.5,-27.1 1511.7,-27.1 1512.9,-27.1 C1514.1,-27.1 1515.3,-27.0 1516.4,-27.0 C1517.6,-26.9 1518.7,-26.9 1520.0,-26.8 C1521.3,-26.6 1521.4,-26.8 1524.0,-26.3 C1526.6,-25.8 1531.6,-24.8 1535.5,-23.8 C1539.3,-22.9 1543.1,-21.8 1546.9,-20.4 C1550.7,-19.1 1554.6,-17.5 1558.4,-15.7 C1562.2,-14.0 1566.0,-12.1 1569.8,-10.1 C1573.6,-8.1 1577.5,-6.0 1581.3,-3.7 C1585.1,-1.5 1588.9,1.1 1592.7,3.6 C1596.6,6.1 1600.4,8.7 1604.2,11.3 C1608.0,14.0 1611.8,16.7 1615.7,19.5 C1619.5,22.3 1623.3,25.2 1627.1,28.1 C1630.9,31.1 1634.7,34.1 1638.6,37.1 C1642.4,40.1 1646.2,43.1 1650.0,46.2 C1653.8,49.3 1657.7,52.4 1661.5,55.6 C1665.3,58.8 1669.1,62.0 1672.9,65.3 C1676.8,68.7 1680.6,72.1 1684.4,75.6 C1688.2,79.2 1692.0,82.9 1695.8,86.6 C1699.7,90.4 1703.5,94.1 1707.3,98.0 C1711.1,101.9 1714.9,105.8 1718.8,109.8 C1722.6,113.9 1726.4,118.0 1730.2,122.3 C1734.0,126.6 1737.9,131.0 1741.7,135.6 C1745.5,140.3 1749.3,145.0 1753.1,149.9 C1756.9,154.9 1760.8,159.9 1764.6,165.3 C1768.4,170.7 1772.2,175.6 1776.0,182.3 C1779.9,189.0 1785.6,201.7 1787.5,205.6 C1789.4,209.5 1789.4,207.4 1787.5,205.6 C1785.6,203.8 1779.9,198.9 1776.0,194.7 C1772.2,190.4 1768.4,184.8 1764.6,180.1 C1760.8,175.3 1756.9,170.6 1753.1,166.1 C1749.3,161.6 1745.5,157.3 1741.7,153.1 C1737.9,148.8 1734.0,144.7 1730.2,140.7 C1726.4,136.7 1722.6,132.8 1718.8,129.0 C1714.9,125.2 1711.1,121.6 1707.3,118.0 C1703.5,114.4 1699.7,110.9 1695.8,107.5 C1692.0,104.2 1688.2,100.9 1684.4,97.7 C1680.6,94.4 1676.8,91.1 1672.9,87.9 C1669.1,84.7 1665.3,81.5 1661.5,78.3 C1657.7,75.2 1653.8,72.1 1650.0,69.1 C1646.2,66.0 1642.4,63.0 1638.6,60.1 C1634.7,57.2 1630.9,54.4 1627.1,51.6 C1623.3,48.8 1619.5,46.0 1615.7,43.3 C1611.8,40.6 1608.0,37.9 1604.2,35.3 C1600.4,32.7 1596.6,30.1 1592.7,27.6 C1588.9,25.1 1585.1,22.7 1581.3,20.3 C1577.5,17.8 1573.6,15.3 1569.8,12.9 C1566.0,10.5 1562.2,8.2 1558.4,6.0 C1554.6,3.7 1550.7,1.6 1546.9,-0.6 C1543.1,-2.8 1539.3,-5.0 1535.5,-7.0 C1531.6,-9.1 1526.6,-11.4 1524.0,-12.7 C1521.4,-14.0 1521.3,-14.0 1520.0,-14.6 C1518.7,-15.2 1517.6,-15.7 1516.4,-16.3 C1515.3,-16.8 1514.1,-17.3 1512.9,-17.9 C1511.7,-18.4 1510.5,-18.9 1509.3,-19.4 C1508.1,-19.9 1506.9,-20.3 1505.8,-21.1 C1504.6,-21.9 1502.8,-23.8 1502.2,-24.3 C1501.6,-24.9 1501.6,-23.9 1502.2,-24.3 Z" fill="#fff" stroke="#262626" stroke-width="2.4" stroke-dasharray="6 2"/>
<path d="M1502.2,153.7 C1502.8,153.3 1504.6,151.9 1505.8,151.5 C1506.9,151.0 1508.1,151.1 1509.3,151.0 C1510.5,150.9 1511.7,150.9 1512.9,150.9 C1514.1,150.9 1515.3,151.0 1516.4,151.0 C1517.6,151.1 1518.7,151.1 1520.0,151.2 C1521.3,151.4 1521.4,151.2 1524.0,151.7 C1526.6,152.2 1531.6,153.2 1535.5,154.2 C1539.3,155.1 1543.1,156.2 1546.9,157.6 C1550.7,158.9 1554.6,160.5 1558.4,162.3 C1562.2,164.0 1566.0,165.9 1569.8,167.9 C1573.6,169.9 1577.5,172.0 1581.3,174.3 C1585.1,176.5 1588.9,179.1 1592.7,181.6 C1596.6,184.1 1600.4,186.7 1604.2,189.3 C1608.0,192.0 1611.8,194.7 1615.7,197.5 C1619.5,200.3 1623.3,203.2 1627.1,206.1 C1630.9,209.1 1634.7,212.1 1638.6,215.1 C1642.4,218.1 1646.2,221.1 1650.0,224.2 C1653.8,227.3 1657.7,230.4 1661.5,233.6 C1665.3,236.8 1669.1,240.0 1672.9,243.3 C1676.8,246.7 1680.6,250.1 1684.4,253.6 C1688.2,257.2 1692.0,260.9 1695.8,264.6 C1699.7,268.4 1703.5,272.1 1707.3,276.0 C1711.1,279.9 1714.9,283.8 1718.8,287.8 C1722.6,291.9 1726.4,296.0 1730.2,300.3 C1734.0,304.6 1737.9,309.0 1741.7,313.6 C1745.5,318.3 1749.3,323.0 1753.1,327.9 C1756.9,332.9 1760.8,337.9 1764.6,343.3 C1768.4,348.7 1772.2,353.6 1776.0,360.3 C1779.9,367.0 1785.6,379.7 1787.5,383.6 C1789.4,387.5 1789.4,385.4 1787.5,383.6 C1785.6,381.8 1779.9,376.9 1776.0,372.7 C1772.2,368.4 1768.4,362.8 1764.6,358.1 C1760.8,353.3 1756.9,348.6 1753.1,344.1 C1749.3,339.6 1745.5,335.3 1741.7,331.1 C1737.9,326.8 1734.0,322.7 1730.2,318.7 C1726.4,314.7 1722.6,310.8 1718.8,307.0 C1714.9,303.2 1711.1,299.6 1707.3,296.0 C1703.5,292.4 1699.7,288.9 1695.8,285.5 C1692.0,282.2 1688.2,278.9 1684.4,275.7 C1680.6,272.4 1676.8,269.1 1672.9,265.9 C1669.1,262.7 1665.3,259.5 1661.5,256.3 C1657.7,253.2 1653.8,250.1 1650.0,247.1 C1646.2,244.0 1642.4,241.0 1638.6,238.1 C1634.7,235.2 1630.9,232.4 1627.1,229.6 C1623.3,226.8 1619.5,224.0 1615.7,221.3 C1611.8,218.6 1608.0,215.9 1604.2,213.3 C1600.4,210.7 1596.6,208.1 1592.7,205.6 C1588.9,203.1 1585.1,200.7 1581.3,198.3 C1577.5,195.8 1573.6,193.3 1569.8,190.9 C1566.0,188.5 1562.2,186.2 1558.4,184.0 C1554.6,181.7 1550.7,179.6 1546.9,177.4 C1543.1,175.2 1539.3,173.0 1535.5,171.0 C1531.6,168.9 1526.6,166.6 1524.0,165.3 C1521.4,164.0 1521.3,164.0 1520.0,163.4 C1518.7,162.8 1517.6,162.3 1516.4,161.7 C1515.3,161.2 1514.1,160.7 1512.9,160.1 C1511.7,159.6 1510.5,159.1 1509.3,158.6 C1508.1,158.1 1506.9,157.7 1505.8,156.9 C1504.6,156.1 1502.8,154.2 1502.2,153.7 C1501.6,153.1 1501.6,154.1 1502.2,153.7 Z" fill="#fff" stroke="#262626" stroke-width="2.4" stroke-dasharray="6 2"/>
<path d="M1502.2,331.7 C1502.8,331.3 1504.6,329.9 1505.8,329.5 C1506.9,329.0 1508.1,329.1 1509.3,329.0 C1510.5,328.9 1511.7,328.9 1512.9,328.9 C1514.1,328.9 1515.3,329.0 1516.4,329.0 C1517.6,329.1 1518.7,329.1 1520.0,329.2 C1521.3,329.4 1521.4,329.2 1524.0,329.7 C1526.6,330.2 1531.6,331.2 1535.5,332.2 C1539.3,333.1 1543.1,334.2 1546.9,335.6 C1550.7,336.9 1554.6,338.5 1558.4,340.3 C1562.2,342.0 1566.0,343.9 1569.8,345.9 C1573.6,347.9 1577.5,350.0 1581.3,352.3 C1585.1,354.5 1588.9,357.1 1592.7,359.6 C1596.6,362.1 1600.4,364.7 1604.2,367.3 C1608.0,370.0 1611.8,372.7 1615.7,375.5 C1619.5,378.3 1623.3,381.2 1627.1,384.1 C1630.9,387.1 1634.7,390.1 1638.6,393.1 C1642.4,396.1 1646.2,399.1 1650.0,402.2 C1653.8,405.3 1657.7,408.4 1661.5,411.6 C1665.3,414.8 1669.1,418.0 1672.9,421.3 C1676.8,424.7 1680.6,428.1 1684.4,431.6 C1688.2,435.2 1692.0,438.9 1695.8,442.6 C1699.7,446.4 1703.5,450.1 1707.3,454.0 C1711.1,457.9 1714.9,461.8 1718.8,465.8 C1722.6,469.9 1726.4,474.0 1730.2,478.3 C1734.0,482.6 1737.9,487.0 1741.7,491.6 C1745.5,496.3 1749.3,501.0 1753.1,505.9 C1756.9,510.9 1760.8,515.9 1764.6,521.3 C1768.4,526.7 1772.2,531.6 1776.0,538.3 C1779.9,545.0 1785.6,557.7 1787.5,561.6 C1789.4,565.5 1789.4,563.4 1787.5,561.6 C1785.6,559.8 1779.9,554.9 1776.0,550.7 C1772.2,546.4 1768.4,540.8 1764.6,536.1 C1760.8,531.3 1756.9,526.6 1753.1,522.1 C1749.3,517.6 1745.5,513.3 1741.7,509.1 C1737.9,504.8 1734.0,500.7 1730.2,496.7 C1726.4,492.7 1722.6,488.8 1718.8,485.0 C1714.9,481.2 1711.1,477.6 1707.3,474.0 C1703.5,470.4 1699.7,466.9 1695.8,463.5 C1692.0,460.2 1688.2,456.9 1684.4,453.7 C1680.6,450.4 1676.8,447.1 1672.9,443.9 C1669.1,440.7 1665.3,437.5 1661.5,434.3 C1657.7,431.2 1653.8,428.1 1650.0,425.1 C1646.2,422.0 1642.4,419.0 1638.6,416.1 C1634.7,413.2 1630.9,410.4 1627.1,407.6 C1623.3,404.8 1619.5,402.0 1615.7,399.3 C1611.8,396.6 1608.0,393.9 1604.2,391.3 C1600.4,388.7 1596.6,386.1 1592.7,383.6 C1588.9,381.1 1585.1,378.7 1581.3,376.3 C1577.5,373.8 1573.6,371.3 1569.8,368.9 C1566.0,366.5 1562.2,364.2 1558.4,362.0 C1554.6,359.7 1550.7,357.6 1546.9,355.4 C1543.1,353.2 1539.3,351.0 1535.5,349.0 C1531.6,346.9 1526.6,344.6 1524.0,343.3 C1521.4,342.0 1521.3,342.0 1520.0,341.4 C1518.7,340.8 1517.6,340.3 1516.4,339.7 C1515.3,339.2 1514.1,338.7 1512.9,338.1 C1511.7,337.6 1510.5,337.1 1509.3,336.6 C1508.1,336.1 1506.9,335.7 1505.8,334.9 C1504.6,334.1 1502.8,332.2 1502.2,331.7 C1501.6,331.1 1501.6,332.1 1502.2,331.7 Z" fill="#fff" stroke="#262626" stroke-width="2.4" stroke-dasharray="6 2"/>
<path d="M1502.2,509.7 C1502.8,509.3 1504.6,507.9 1505.8,507.5 C1506.9,507.0 1508.1,507.1 1509.3,507.0 C1510.5,506.9 1511.7,506.9 1512.9,506.9 C1514.1,506.9 1515.3,507.0 1516.4,507.0 C1517.6,507.1 1518.7,507.1 1520.0,507.2 C1521.3,507.4 1521.4,507.2 1524.0,507.7 C1526.6,508.2 1531.6,509.2 1535.5,510.2 C1539.3,511.1 1543.1,512.2 1546.9,513.6 C1550.7,514.9 1554.6,516.5 1558.4,518.3 C1562.2,520.0 1566.0,521.9 1569.8,523.9 C1573.6,525.9 1577.5,528.0 1581.3,530.3 C1585.1,532.5 1588.9,535.1 1592.7,537.6 C1596.6,540.1 1600.4,542.7 1604.2,545.3 C1608.0,548.0 1611.8,550.7 1615.7,553.5 C1619.5,556.3 1623.3,559.2 1627.1,562.1 C1630.9,565.1 1634.7,568.1 1638.6,571.1 C1642.4,574.1 1646.2,577.1 1650.0,580.2 C1653.8,583.3 1657.7,586.4 1661.5,589.6 C1665.3,592.8 1669.1,596.0 1672.9,599.3 C1676.8,602.7 1680.6,606.1 1684.4,609.6 C1688.2,613.2 1692.0,616.9 1695.8,620.6 C1699.7,624.4 1703.5,628.1 1707.3,632.0 C1711.1,635.9 1714.9,639.8 1718.8,643.8 C1722.6,647.9 1726.4,652.0 1730.2,656.3 C1734.0,660.6 1737.9,665.0 1741.7,669.6 C1745.5,674.3 1749.3,679.0 1753.1,683.9 C1756.9,688.9 1760.8,693.9 1764.6,699.3 C1768.4,704.7 1772.2,709.6 1776.0,716.3 C1779.9,723.0 1785.6,735.7 1787.5,739.6 C1789.4,743.5 1789.4,741.4 1787.5,739.6 C1785.6,737.8 1779.9,732.9 1776.0,728.7 C1772.2,724.4 1768.4,718.8 1764.6,714.1 C1760.8,709.3 1756.9,704.6 1753.1,700.1 C1749.3,695.6 1745.5,691.3 1741.7,687.1 C1737.9,682.8 1734.0,678.7 1730.2,674.7 C1726.4,670.7 1722.6,666.8 1718.8,663.0 C1714.9,659.2 1711.1,655.6 1707.3,652.0 C1703.5,648.4 1699.7,644.9 1695.8,641.5 C1692.0,638.2 1688.2,634.9 1684.4,631.7 C1680.6,628.4 1676.8,625.1 1672.9,621.9 C1669.1,618.7 1665.3,615.5 1661.5,612.3 C1657.7,609.2 1653.8,606.1 1650.0,603.1 C1646.2,600.0 1642.4,597.0 1638.6,594.1 C1634.7,591.2 1630.9,588.4 1627.1,585.6 C1623.3,582.8 1619.5,580.0 1615.7,577.3 C1611.8,574.6 1608.0,571.9 1604.2,569.3 C1600.4,566.7 1596.6,564.1 1592.7,561.6 C1588.9,559.1 1585.1,556.7 1581.3,554.3 C1577.5,551.8 1573.6,549.3 1569.8,546.9 C1566.0,544.5 1562.2,542.2 1558.4,540.0 C1554.6,537.7 1550.7,535.6 1546.9,533.4 C1543.1,531.2 1539.3,529.0 1535.5,527.0 C1531.6,524.9 1526.6,522.6 1524.0,521.3 C1521.4,520.0 1521.3,520.0 1520.0,519.4 C1518.7,518.8 1517.6,518.3 1516.4,517.7 C1515.3,517.2 1514.1,516.7 1512.9,516.1 C1511.7,515.6 1510.5,515.1 1509.3,514.6 C1508.1,514.1 1506.9,513.7 1505.8,512.9 C1504.6,512.1 1502.8,510.2 1502.2,509.7 C1501.6,509.1 1501.6,510.1 1502.2,509.7 Z" fill="#fff" stroke="#262626" stroke-width="2.4" stroke-dasharray="6 2"/>
<path d="M1502.2,687.7 C1502.8,687.3 1504.6,685.9 1505.8,685.5 C1506.9,685.0 1508.1,685.1 1509.3,685.0 C1510.5,684.9 1511.7,684.9 1512.9,684.9 C1514.1,684.9 1515.3,685.0 1516.4,685.0 C1517.6,685.1 1518.7,685.1 1520.0,685.2 C1521.3,685.4 1521.4,685.2 1524.0,685.7 C1526.6,686.2 1531.6,687.2 1535.5,688.2 C1539.3,689.1 1543.1,690.2 1546.9,691.6 C1550.7,692.9 1554.6,694.5 1558.4,696.3 C1562.2,698.0 1566.0,699.9 1569.8,701.9 C1573.6,703.9 1577.5,706.0 1581.3,708.3 C1585.1,710.5 1588.9,713.1 1592.7,715.6 C1596.6,718.1 1600.4,720.7 1604.2,723.3 C1608.0,726.0 1611.8,728.7 1615.7,731.5 C1619.5,734.3 1623.3,737.2 1627.1,740.1 C1630.9,743.1 1634.7,746.1 1638.6,749.1 C1642.4,752.1 1646.2,755.1 1650.0,758.2 C1653.8,761.3 1657.7,764.4 1661.5,767.6 C1665.3,770.8 1669.1,774.0 1672.9,777.3 C1676.8,780.7 1680.6,784.1 1684.4,787.6 C1688.2,791.2 1692.0,794.9 1695.8,798.6 C1699.7,802.4 1703.5,806.1 1707.3,810.0 C1711.1,813.9 1714.9,817.8 1718.8,821.8 C1722.6,825.9 1726.4,830.0 1730.2,834.3 C1734.0,838.6 1737.9,843.0 1741.7,847.6 C1745.5,852.3 1749.3,857.0 1753.1,861.9 C1756.9,866.9 1760.8,871.9 1764.6,877.3 C1768.4,882.7 1772.2,887.6 1776.0,894.3 C1779.9,901.0 1785.6,913.7 1787.5,917.6 C1789.4,921.5 1789.4,919.4 1787.5,917.6 C1785.6,915.8 1779.9,910.9 1776.0,906.7 C1772.2,902.4 1768.4,896.8 1764.6,892.1 C1760.8,887.3 1756.9,882.6 1753.1,878.1 C1749.3,873.6 1745.5,869.3 1741.7,865.1 C1737.9,860.8 1734.0,856.7 1730.2,852.7 C1726.4,848.7 1722.6,844.8 1718.8,841.0 C1714.9,837.2 1711.1,833.6 1707.3,830.0 C1703.5,826.4 1699.7,822.9 1695.8,819.5 C1692.0,816.2 1688.2,812.9 1684.4,809.7 C1680.6,806.4 1676.8,803.1 1672.9,799.9 C1669.1,796.7 1665.3,793.5 1661.5,790.3 C1657.7,787.2 1653.8,784.1 1650.0,781.1 C1646.2,778.0 1642.4,775.0 1638.6,772.1 C1634.7,769.2 1630.9,766.4 1627.1,763.6 C1623.3,760.8 1619.5,758.0 1615.7,755.3 C1611.8,752.6 1608.0,749.9 1604.2,747.3 C1600.4,744.7 1596.6,742.1 1592.7,739.6 C1588.9,737.1 1585.1,734.7 1581.3,732.3 C1577.5,729.8 1573.6,727.3 1569.8,724.9 C1566.0,722.5 1562.2,720.2 1558.4,718.0 C1554.6,715.7 1550.7,713.6 1546.9,711.4 C1543.1,709.2 1539.3,707.0 1535.5,705.0 C1531.6,702.9 1526.6,700.6 1524.0,699.3 C1521.4,698.0 1521.3,698.0 1520.0,697.4 C1518.7,696.8 1517.6,696.3 1516.4,695.7 C1515.3,695.2 1514.1,694.7 1512.9,694.1 C1511.7,693.6 1510.5,693.1 1509.3,692.6 C1508.1,692.1 1506.9,691.7 1505.8,690.9 C1504.6,690.1 1502.8,688.2 1502.2,687.7 C1501.6,687.1 1501.6,688.1 1502.2,687.7 Z" fill="#fff" stroke="#262626" stroke-width="2.4" stroke-dasharray="6 2"/>
<path d="M1502.2,865.7 C1502.8,865.3 1504.6,863.9 1505.8,863.5 C1506.9,863.0 1508.1,863.1 1509.3,863.0 C1510.5,862.9 1511.7,862.9 1512.9,862.9 C1514.1,862.9 1515.3,863.0 1516.4,863.0 C1517.6,863.1 1518.7,863.1 1520.0,863.2 C1521.3,863.4 1521.4,863.2 1524.0,863.7 C1526.6,864.2 1531.6,865.2 1535.5,866.2 C1539.3,867.1 1543.1,868.2 1546.9,869.6 C1550.7,870.9 1554.6,872.5 1558.4,874.3 C1562.2,876.0 1566.0,877.9 1569.8,879.9 C1573.6,881.9 1577.5,884.0 1581.3,886.3 C1585.1,888.5 1588.9,891.1 1592.7,893.6 C1596.6,896.1 1600.4,898.7 1604.2,901.3 C1608.0,904.0 1611.8,906.7 1615.7,909.5 C1619.5,912.3 1623.3,915.2 1627.1,918.1 C1630.9,921.1 1634.7,924.1 1638.6,927.1 C1642.4,930.1 1646.2,933.1 1650.0,936.2 C1653.8,939.3 1657.7,942.4 1661.5,945.6 C1665.3,948.8 1669.1,952.0 1672.9,955.3 C1676.8,958.7 1680.6,962.1 1684.4,965.6 C1688.2,969.2 1692.0,972.9 1695.8,976.6 C1699.7,980.4 1703.5,984.1 1707.3,988.0 C1711.1,991.9 1714.9,995.8 1718.8,999.8 C1722.6,1003.9 1726.4,1008.0 1730.2,1012.3 C1734.0,1016.6 1737.9,1021.0 1741.7,1025.6 C1745.5,1030.3 1749.3,1035.0 1753.1,1039.9 C1756.9,1044.9 1760.8,1049.9 1764.6,1055.3 C1768.4,1060.7 1772.2,1065.6 1776.0,1072.3 C1779.9,1079.0 1785.6,1091.7 1787.5,1095.6 C1789.4,1099.5 1789.4,1097.4 1787.5,1095.6 C1785.6,1093.8 1779.9,1088.9 1776.0,1084.7 C1772.2,1080.4 1768.4,1074.8 1764.6,1070.1 C1760.8,1065.3 1756.9,1060.6 1753.1,1056.1 C1749.3,1051.6 1745.5,1047.3 1741.7,1043.1 C1737.9,1038.8 1734.0,1034.7 1730.2,1030.7 C1726.4,1026.7 1722.6,1022.8 1718.8,1019.0 C1714.9,1015.2 1711.1,1011.6 1707.3,1008.0 C1703.5,1004.4 1699.7,1000.9 1695.8,997.5 C1692.0,994.2 1688.2,990.9 1684.4,987.7 C1680.6,984.4 1676.8,981.1 1672.9,977.9 C1669.1,974.7 1665.3,971.5 1661.5,968.3 C1657.7,965.2 1653.8,962.1 1650.0,959.1 C1646.2,956.0 1642.4,953.0 1638.6,950.1 C1634.7,947.2 1630.9,944.4 1627.1,941.6 C1623.3,938.8 1619.5,936.0 1615.7,933.3 C1611.8,930.6 1608.0,927.9 1604.2,925.3 C1600.4,922.7 1596.6,920.1 1592.7,917.6 C1588.9,915.1 1585.1,912.7 1581.3,910.3 C1577.5,907.8 1573.6,905.3 1569.8,902.9 C1566.0,900.5 1562.2,898.2 1558.4,896.0 C1554.6,893.7 1550.7,891.6 1546.9,889.4 C1543.1,887.2 1539.3,885.0 1535.5,883.0 C1531.6,880.9 1526.6,878.6 1524.0,877.3 C1521.4,876.0 1521.3,876.0 1520.0,875.4 C1518.7,874.8 1517.6,874.3 1516.4,873.7 C1515.3,873.2 1514.1,872.7 1512.9,872.1 C1511.7,871.6 1510.5,871.1 1509.3,870.6 C1508.1,870.1 1506.9,869.7 1505.8,868.9 C1504.6,868.1 1502.8,866.2 1502.2,865.7 C1501.6,865.1 1501.6,866.1 1502.2,865.7 Z" fill="#fff" stroke="#262626" stroke-width="2.4" stroke-dasharray="6 2"/>
<path d="M1502.2,1043.7 C1502.8,1043.3 1504.6,1041.9 1505.8,1041.5 C1506.9,1041.0 1508.1,1041.1 1509.3,1041.0 C1510.5,1040.9 1511.7,1040.9 1512.9,1040.9 C1514.1,1040.9 1515.3,1041.0 1516.4,1041.0 C1517.6,1041.1 1518.7,1041.1 1520.0,1041.2 C1521.3,1041.4 1521.4,1041.2 1524.0,1041.7 C1526.6,1042.2 1531.6,1043.2 1535.5,1044.2 C1539.3,1045.1 1543.1,1046.2 1546.9,1047.6 C1550.7,1048.9 1554.6,1050.5 1558.4,1052.3 C1562.2,1054.0 1566.0,1055.9 1569.8,1057.9 C1573.6,1059.9 1577.5,1062.0 1581.3,1064.3 C1585.1,1066.5 1588.9,1069.1 1592.7,1071.6 C1596.6,1074.1 1600.4,1076.7 1604.2,1079.3 C1608.0,1082.0 1611.8,1084.7 1615.7,1087.5 C1619.5,1090.3 1623.3,1093.2 1627.1,1096.1 C1630.9,1099.1 1634.7,1102.1 1638.6,1105.1 C1642.4,1108.1 1646.2,1111.1 1650.0,1114.2 C1653.8,1117.3 1657.7,1120.4 1661.5,1123.6 C1665.3,1126.8 1669.1,1130.0 1672.9,1133.3 C1676.8,1136.7 1680.6,1140.1 1684.4,1143.6 C1688.2,1147.2 1692.0,1150.9 1695.8,1154.6 C1699.7,1158.4 1703.5,1162.1 1707.3,1166.0 C1711.1,1169.9 1714.9,1173.8 1718.8,1177.8 C1722.6,1181.9 1726.4,1186.0 1730.2,1190.3 C1734.0,1194.6 1737.9,1199.0 1741.7,1203.6 C1745.5,1208.3 1749.3,1213.0 1753.1,1217.9 C1756.9,1222.9 1760.8,1227.9 1764.6,1233.3 C1768.4,1238.7 1772.2,1243.6 1776.0,1250.3 C1779.9,1257.0 1785.6,1269.7 1787.5,1273.6 C1789.4,1277.5 1789.4,1275.4 1787.5,1273.6 C1785.6,1271.8 1779.9,1266.9 1776.0,1262.7 C1772.2,1258.4 1768.4,1252.8 1764.6,1248.1 C1760.8,1243.3 1756.9,1238.6 1753.1,1234.1 C1749.3,1229.6 1745.5,1225.3 1741.7,1221.1 C1737.9,1216.8 1734.0,1212.7 1730.2,1208.7 C1726.4,1204.7 1722.6,1200.8 1718.8,1197.0 C1714.9,1193.2 1711.1,1189.6 1707.3,1186.0 C1703.5,1182.4 1699.7,1178.9 1695.8,1175.5 C1692.0,1172.2 1688.2,1168.9 1684.4,1165.7 C1680.6,1162.4 1676.8,1159.1 1672.9,1155.9 C1669.1,1152.7 1665.3,1149.5 1661.5,1146.3 C1657.7,1143.2 1653.8,1140.1 1650.0,1137.1 C1646.2,1134.0 1642.4,1131.0 1638.6,1128.1 C1634.7,1125.2 1630.9,1122.4 1627.1,1119.6 C1623.3,1116.8 1619.5,1114.0 1615.7,1111.3 C1611.8,1108.6 1608.0,1105.9 1604.2,1103.3 C1600.4,1100.7 1596.6,1098.1 1592.7,1095.6 C1588.9,1093.1 1585.1,1090.7 1581.3,1088.3 C1577.5,1085.8 1573.6,1083.3 1569.8,1080.9 C1566.0,1078.5 1562.2,1076.2 1558.4,1074.0 C1554.6,1071.7 1550.7,1069.6 1546.9,1067.4 C1543.1,1065.2 1539.3,1063.0 1535.5,1061.0 C1531.6,1058.9 1526.6,1056.6 1524.0,1055.3 C1521.4,1054.0 1521.3,1054.0 1520.0,1053.4 C1518.7,1052.8 1517.6,1052.3 1516.4,1051.7 C1515.3,1051.2 1514.1,1050.7 1512.9,1050.1 C1511.7,1049.6 1510.5,1049.1 1509.3,1048.6 C1508.1,1048.1 1506.9,1047.7 1505.8,1046.9 C1504.6,1046.1 1502.8,1044.2 1502.2,1043.7 C1501.6,1043.1 1501.6,1044.1 1502.2,1043.7 Z" fill="#fff" stroke="#262626" stroke-width="2.4" stroke-dasharray="6 2"/>
<path d="M1502.2,1221.7 C1502.8,1221.3 1504.6,1219.9 1505.8,1219.5 C1506.9,1219.0 1508.1,1219.1 1509.3,1219.0 C1510.5,1218.9 1511.7,1218.9 1512.9,1218.9 C1514.1,1218.9 1515.3,1219.0 1516.4,1219.0 C1517.6,1219.1 1518.7,1219.1 1520.0,1219.2 C1521.3,1219.4 1521.4,1219.2 1524.0,1219.7 C1526.6,1220.2 1531.6,1221.2 1535.5,1222.2 C1539.3,1223.1 1543.1,1224.2 1546.9,1225.6 C1550.7,1226.9 1554.6,1228.5 1558.4,1230.3 C1562.2,1232.0 1566.0,1233.9 1569.8,1235.9 C1573.6,1237.9 1577.5,1240.0 1581.3,1242.3 C1585.1,1244.5 1588.9,1247.1 1592.7,1249.6 C1596.6,1252.1 1600.4,1254.7 1604.2,1257.3 C1608.0,1260.0 1611.8,1262.7 1615.7,1265.5 C1619.5,1268.3 1623.3,1271.2 1627.1,1274.1 C1630.9,1277.1 1634.7,1280.1 1638.6,1283.1 C1642.4,1286.1 1646.2,1289.1 1650.0,1292.2 C1653.8,1295.3 1657.7,1298.4 1661.5,1301.6 C1665.3,1304.8 1669.1,1308.0 1672.9,1311.3 C1676.8,1314.7 1680.6,1318.1 1684.4,1321.6 C1688.2,1325.2 1692.0,1328.9 1695.8,1332.6 C1699.7,1336.4 1703.5,1340.1 1707.3,1344.0 C1711.1,1347.9 1714.9,1351.8 1718.8,1355.8 C1722.6,1359.9 1726.4,1364.0 1730.2,1368.3 C1734.0,1372.6 1737.9,1377.0 1741.7,1381.6 C1745.5,1386.3 1749.3,1391.0 1753.1,1395.9 C1756.9,1400.9 1760.8,1405.9 1764.6,1411.3 C1768.4,1416.7 1772.2,1421.6 1776.0,1428.3 C1779.9,1435.0 1785.6,1447.7 1787.5,1451.6 C1789.4,1455.5 1789.4,1453.4 1787.5,1451.6 C1785.6,1449.8 1779.9,1444.9 1776.0,1440.7 C1772.2,1436.4 1768.4,1430.8 1764.6,1426.1 C1760.8,1421.3 1756.9,1416.6 1753.1,1412.1 C1749.3,1407.6 1745.5,1403.3 1741.7,1399.1 C1737.9,1394.8 1734.0,1390.7 1730.2,1386.7 C1726.4,1382.7 1722.6,1378.8 1718.8,1375.0 C1714.9,1371.2 1711.1,1367.6 1707.3,1364.0 C1703.5,1360.4 1699.7,1356.9 1695.8,1353.5 C1692.0,1350.2 1688.2,1346.9 1684.4,1343.7 C1680.6,1340.4 1676.8,1337.1 1672.9,1333.9 C1669.1,1330.7 1665.3,1327.5 1661.5,1324.3 C1657.7,1321.2 1653.8,1318.1 1650.0,1315.1 C1646.2,1312.0 1642.4,1309.0 1638.6,1306.1 C1634.7,1303.2 1630.9,1300.4 1627.1,1297.6 C1623.3,1294.8 1619.5,1292.0 1615.7,1289.3 C1611.8,1286.6 1608.0,1283.9 1604.2,1281.3 C1600.4,1278.7 1596.6,1276.1 1592.7,1273.6 C1588.9,1271.1 1585.1,1268.7 1581.3,1266.3 C1577.5,1263.8 1573.6,1261.3 1569.8,1258.9 C1566.0,1256.5 1562.2,1254.2 1558.4,1252.0 C1554.6,1249.7 1550.7,1247.6 1546.9,1245.4 C1543.1,1243.2 1539.3,1241.0 1535.5,1239.0 C1531.6,1236.9 1526.6,1234.6 1524.0,1233.3 C1521.4,1232.0 1521.3,1232.0 1520.0,1231.4 C1518.7,1230.8 1517.6,1230.3 1516.4,1229.7 C1515.3,1229.2 1514.1,1228.7 1512.9,1228.1 C1511.7,1227.6 1510.5,1227.1 1509.3,1226.6 C1508.1,1226.1 1506.9,1225.7 1505.8,1224.9 C1504.6,1224.1 1502.8,1222.2 1502.2,1221.7 C1501.6,1221.1 1501.6,1222.1 1502.2,1221.7 Z" fill="#fff" stroke="#262626" stroke-width="2.4" stroke-dasharray="6 2"/>
<path d="M1995.0,22.0 C1991.0,29.2 1976.8,54.2 1971.2,65.4 C1965.6,76.6 1964.8,81.1 1961.4,89.0 C1958.0,96.8 1954.5,104.7 1950.9,112.6 C1947.3,120.4 1943.6,128.3 1939.8,136.2 C1936.0,144.0 1932.1,151.9 1928.2,159.7 C1924.3,167.6 1920.4,175.5 1916.4,183.3 C1912.4,191.2 1908.4,199.0 1904.3,206.9 C1900.3,214.8 1896.2,222.6 1892.2,230.5 C1888.2,238.4 1884.1,246.2 1880.1,254.1 C1876.1,261.9 1872.1,269.8 1868.2,277.7 C1864.3,285.5 1860.4,293.4 1856.7,301.2 C1852.9,309.1 1849.1,317.0 1845.5,324.8 C1841.9,332.7 1838.3,340.6 1834.9,348.4 C1831.5,356.3 1826.2,366.7 1825.0,372.0 C1823.8,377.3 1827.2,378.8 1827.6,380.5 C1828.0,382.2 1826.8,382.3 1827.6,382.5 C1828.4,382.7 1828.5,385.7 1832.6,381.5 C1836.7,377.3 1845.9,365.3 1852.1,357.2 C1858.3,349.1 1864.1,341.0 1869.6,332.9 C1875.2,324.8 1880.4,316.7 1885.3,308.6 C1890.3,300.4 1895.0,292.3 1899.4,284.2 C1903.9,276.1 1908.1,268.0 1912.1,259.9 C1916.1,251.8 1919.8,243.7 1923.4,235.6 C1927.0,227.5 1930.4,219.4 1933.7,211.3 C1937.0,203.2 1940.1,195.1 1943.1,187.0 C1946.1,178.9 1948.9,170.8 1951.7,162.7 C1954.5,154.6 1957.2,146.5 1959.9,138.3 C1962.5,130.2 1965.1,122.1 1967.7,114.0 C1970.2,105.9 1972.7,97.8 1975.3,89.7 C1977.8,81.6 1979.6,76.7 1982.9,65.4 C1986.2,54.1 1993.0,29.2 1995.0,22.0 C1997.0,14.8 1999.0,14.8 1995.0,22.0 Z" fill="#fff" stroke="#262626" stroke-width="2.4" stroke-dasharray="6 2"/>
<path d="M1999.7,420.9 C1999.2,421.0 1999.4,416.8 1996.6,421.5 C1993.8,426.2 1987.3,439.8 1982.8,448.9 C1978.2,458.1 1973.8,467.2 1969.4,476.3 C1965.0,485.5 1960.7,494.6 1956.4,503.8 C1952.1,512.9 1947.9,522.1 1943.6,531.2 C1939.4,540.3 1935.1,549.5 1930.9,558.6 C1926.6,567.8 1922.3,576.9 1918.1,586.0 C1913.8,595.2 1909.5,604.3 1905.2,613.5 C1900.9,622.6 1896.5,631.7 1892.2,640.9 C1887.8,650.0 1883.4,659.2 1879.1,668.3 C1874.7,677.4 1870.3,686.6 1865.9,695.7 C1861.5,704.9 1857.1,714.0 1852.7,723.2 C1848.3,732.3 1844.0,741.4 1839.7,750.6 C1835.4,759.7 1828.8,772.3 1826.9,778.0 C1824.9,783.7 1827.8,783.8 1828.0,785.0 C1828.2,786.2 1827.6,785.5 1828.0,785.0 C1828.4,784.5 1825.5,787.1 1830.1,782.0 C1834.8,776.9 1848.1,763.7 1855.8,754.6 C1863.4,745.4 1869.9,736.3 1876.0,727.2 C1882.1,718.0 1887.3,708.9 1892.3,699.8 C1897.3,690.6 1901.6,681.5 1905.9,672.3 C1910.1,663.2 1914.0,654.1 1917.8,644.9 C1921.6,635.8 1925.2,626.6 1928.9,617.5 C1932.5,608.4 1936.1,599.2 1939.7,590.1 C1943.3,581.0 1946.9,571.8 1950.5,562.7 C1954.2,553.5 1957.9,544.4 1961.6,535.3 C1965.3,526.1 1969.1,517.0 1972.9,507.8 C1976.6,498.7 1980.4,489.6 1983.9,480.4 C1987.5,471.3 1991.1,462.2 1994.4,453.0 C1997.6,443.9 2002.5,431.0 2003.4,425.6 C2004.3,420.2 2000.3,421.7 1999.7,420.9 C1999.1,420.1 2000.2,420.8 1999.7,420.9 Z" fill="#fff" stroke="#262626" stroke-width="2.4" stroke-dasharray="6 2"/>
<path d="M1999.7,824.5 C1999.2,824.6 1999.4,820.4 1996.6,825.1 C1993.8,829.8 1987.3,843.4 1982.8,852.5 C1978.2,861.7 1973.8,870.8 1969.4,879.9 C1965.0,889.1 1960.7,898.2 1956.4,907.4 C1952.1,916.5 1947.9,925.7 1943.6,934.8 C1939.4,943.9 1935.1,953.1 1930.9,962.2 C1926.6,971.4 1922.3,980.5 1918.1,989.6 C1913.8,998.8 1909.5,1007.9 1905.2,1017.1 C1900.9,1026.2 1896.5,1035.3 1892.2,1044.5 C1887.8,1053.6 1883.4,1062.8 1879.1,1071.9 C1874.7,1081.0 1870.3,1090.2 1865.9,1099.3 C1861.5,1108.5 1857.1,1117.6 1852.7,1126.8 C1848.3,1135.9 1844.0,1145.0 1839.7,1154.2 C1835.4,1163.3 1828.8,1175.9 1826.9,1181.6 C1824.9,1187.3 1827.8,1187.4 1828.0,1188.6 C1828.2,1189.8 1827.6,1189.1 1828.0,1188.6 C1828.4,1188.1 1825.5,1190.7 1830.1,1185.6 C1834.8,1180.5 1848.1,1167.3 1855.8,1158.2 C1863.4,1149.0 1869.9,1139.9 1876.0,1130.8 C1882.1,1121.6 1887.3,1112.5 1892.3,1103.4 C1897.3,1094.2 1901.6,1085.1 1905.9,1075.9 C1910.1,1066.8 1914.0,1057.7 1917.8,1048.5 C1921.6,1039.4 1925.2,1030.2 1928.9,1021.1 C1932.5,1012.0 1936.1,1002.8 1939.7,993.7 C1943.3,984.6 1946.9,975.4 1950.5,966.3 C1954.2,957.1 1957.9,948.0 1961.6,938.9 C1965.3,929.7 1969.1,920.6 1972.9,911.4 C1976.6,902.3 1980.4,893.2 1983.9,884.0 C1987.5,874.9 1991.1,865.8 1994.4,856.6 C1997.6,847.5 2002.5,834.6 2003.4,829.2 C2004.3,823.8 2000.3,825.3 1999.7,824.5 C1999.1,823.7 2000.2,824.4 1999.7,824.5 Z" fill="#fff" stroke="#262626" stroke-width="2.4" stroke-dasharray="6 2"/>
<path d="M1999.7,1228.1 C1999.2,1228.2 1999.4,1224.0 1996.6,1228.7 C1993.8,1233.4 1987.3,1247.0 1982.8,1256.1 C1978.2,1265.3 1973.8,1274.4 1969.4,1283.5 C1965.0,1292.7 1960.7,1301.8 1956.4,1311.0 C1952.1,1320.1 1947.9,1329.3 1943.6,1338.4 C1939.4,1347.5 1935.1,1356.7 1930.9,1365.8 C1926.6,1375.0 1922.3,1384.1 1918.1,1393.2 C1913.8,1402.4 1909.5,1411.5 1905.2,1420.7 C1900.9,1429.8 1896.5,1438.9 1892.2,1448.1 C1887.8,1457.2 1883.4,1466.4 1879.1,1475.5 C1874.7,1484.6 1870.3,1493.8 1865.9,1502.9 C1861.5,1512.1 1857.1,1521.2 1852.7,1530.4 C1848.3,1539.5 1844.0,1548.6 1839.7,1557.8 C1835.4,1566.9 1828.8,1579.5 1826.9,1585.2 C1824.9,1590.9 1827.8,1591.0 1828.0,1592.2 C1828.2,1593.4 1827.6,1592.7 1828.0,1592.2 C1828.4,1591.7 1825.5,1594.3 1830.1,1589.2 C1834.8,1584.1 1848.1,1570.9 1855.8,1561.8 C1863.4,1552.6 1869.9,1543.5 1876.0,1534.4 C1882.1,1525.2 1887.3,1516.1 1892.3,1507.0 C1897.3,1497.8 1901.6,1488.7 1905.9,1479.5 C1910.1,1470.4 1914.0,1461.3 1917.8,1452.1 C1921.6,1443.0 1925.2,1433.8 1928.9,1424.7 C1932.5,1415.6 1936.1,1406.4 1939.7,1397.3 C1943.3,1388.2 1946.9,1379.0 1950.5,1369.9 C1954.2,1360.7 1957.9,1351.6 1961.6,1342.5 C1965.3,1333.3 1969.1,1324.2 1972.9,1315.0 C1976.6,1305.9 1980.4,1296.8 1983.9,1287.6 C1987.5,1278.5 1991.1,1269.4 1994.4,1260.2 C1997.6,1251.1 2002.5,1238.2 2003.4,1232.8 C2004.3,1227.4 2000.3,1228.9 1999.7,1228.1 C1999.1,1227.3 2000.2,1228.0 1999.7,1228.1 Z" fill="#fff" stroke="#262626" stroke-width="2.4" stroke-dasharray="6 2"/>
</g>
<line x1="1501.5" y1="65.5" x2="1501.5" y2="1106.5" stroke="#444" stroke-width="2.2"/>
<line x1="1798.0" y1="65.5" x2="1798.0" y2="1106.5" stroke="#1a4d2a" stroke-width="2.6"/>
<line x1="2220.0" y1="65.5" x2="2220.0" y2="1106.5" stroke="#335533" stroke-width="2"/>
<text x="19" y="63" font-family="'Liberation Serif', serif" font-size="59.5">Pressure</text><rect x="35" y="109.50" width="64" height="91.25" fill="#ff4000"/><rect x="35" y="200.25" width="64" height="91.25" fill="#ffaa00"/><rect x="35" y="291.00" width="64" height="91.25" fill="#ffff00"/><rect x="35" y="381.75" width="64" height="91.25" fill="#99ff00"/><rect x="35" y="472.50" width="64" height="91.25" fill="#00ff00"/><rect x="35" y="563.25" width="64" height="91.25" fill="#00ff55"/><rect x="35" y="654.00" width="64" height="91.25" fill="#00ffaa"/><rect x="35" y="744.75" width="64" height="91.25" fill="#00ffff"/><rect x="35" y="835.50" width="64" height="91.25" fill="#00aaff"/><rect x="35" y="926.25" width="64" height="91.25" fill="#0040ff"/><rect x="35.5" y="109.50" width="63" height="907.50" fill="none" stroke="#1a1a1a" stroke-width="3"/><line x1="98" y1="109.50" x2="111" y2="109.50" stroke="#333" stroke-width="3"/><line x1="98" y1="200.25" x2="111" y2="200.25" stroke="#333" stroke-width="3"/><line x1="98" y1="291.00" x2="111" y2="291.00" stroke="#333" stroke-width="3"/><line x1="98" y1="381.75" x2="111" y2="381.75" stroke="#333" stroke-width="3"/><line x1="98" y1="472.50" x2="111" y2="472.50" stroke="#333" stroke-width="3"/><line x1="98" y1="563.25" x2="111" y2="563.25" stroke="#333" stroke-width="3"/><line x1="98" y1="654.00" x2="111" y2="654.00" stroke="#333" stroke-width="3"/><line x1="98" y1="744.75" x2="111" y2="744.75" stroke="#333" stroke-width="3"/><line x1="98" y1="835.50" x2="111" y2="835.50" stroke="#333" stroke-width="3"/><line x1="98" y1="926.25" x2="111" y2="926.25" stroke="#333" stroke-width="3"/><line x1="98" y1="1017.00" x2="111" y2="1017.00" stroke="#333" stroke-width="3"/><text x="133.1" y="136.3" font-family="'Liberation Serif', serif" font-size="51">152,107.45</text><text x="133.7" y="217.0" font-family="'Liberation Serif', serif" font-size="51">115,426.77</text><text x="127.5" y="309.8" font-family="'Liberation Serif', serif" font-size="51">78,746.08</text><text x="127.3" y="399.7" font-family="'Liberation Serif', serif" font-size="51">42,065.39</text><text x="127.1" y="491.5" font-family="'Liberation Serif', serif" font-size="51">5,384.69</text><text x="122.8" y="584.5" font-family="'Liberation Serif', serif" font-size="51.5">−31,296.02</text><text x="125.7" y="676.4" font-family="'Liberation Serif', serif" font-size="51.5">−67,976.70</text><text x="125.7" y="760.6" font-family="'Liberation Serif', serif" font-size="51.5">−104,657.40</text><text x="122.8" y="850.7" font-family="'Liberation Serif', serif" font-size="51.5">−141,338.09</text><text x="130.4" y="945.4" font-family="'Liberation Serif', serif" font-size="51.5">−178,018.78</text><text x="131.4" y="1028.7" font-family="'Liberation Serif', serif" font-size="51.5">−214,699.48</text><text x="24.8" y="1109.5" font-family="'Liberation Serif', serif" font-size="58.2">(Pa)</text><text x="1258.1" y="77" font-family="'Liberation Serif', serif" font-size="58.5">Velocity</text><defs><linearGradient id="vg" x1="0" y1="0" x2="0" y2="1"><stop offset="0" stop-color="#ff0000"/><stop offset="0.1" stop-color="#ff6a00"/><stop offset="0.25" stop-color="#ffff00"/><stop offset="0.37" stop-color="#88ff00"/><stop offset="0.405" stop-color="#55ff00"/><stop offset="0.415" stop-color="#00ff00"/><stop offset="0.5" stop-color="#00ff00"/><stop offset="0.75" stop-color="#00ffff"/><stop offset="1" stop-color="#0000ff"/></linearGradient></defs><rect x="1258.5" y="126.0" width="60" height="809.0" fill="url(#vg)" stroke="#222" stroke-width="3"/><line x1="1318" y1="126" x2="1328" y2="126" stroke="#333" stroke-width="3"/><line x1="1318" y1="328" x2="1328" y2="328" stroke="#333" stroke-width="3"/><line x1="1318" y1="529" x2="1328" y2="529" stroke="#333" stroke-width="3"/><line x1="1318" y1="731" x2="1328" y2="731" stroke="#333" stroke-width="3"/><line x1="1318" y1="935" x2="1328" y2="935" stroke="#333" stroke-width="3"/><text x="1365.0" y="149.9" font-family="'Liberation Serif', serif" font-size="51">23.36</text><text x="1354.7" y="335" font-family="'Liberation Serif', serif" font-size="51">17.52</text><text x="1354.7" y="544.7" font-family="'Liberation Serif', serif" font-size="51">11.68</text><text x="1352.5" y="746" font-family="'Liberation Serif', serif" font-size="51">5.84</text><text x="1353.6" y="942" font-family="'Liberation Serif', serif" font-size="51">0.00</text><text x="1256.5" y="1023.6" font-family="'Liberation Serif', serif" font-size="58.5">(m s<tspan dy="-18" dx="1" font-size="39">−1</tspan><tspan dy="18" dx="-1">)</tspan></text><text x="562.4" y="1222.2" font-family="'Liberation Serif', serif" font-size="60">(<tspan font-weight="bold">a</tspan>)</text><text x="1722.5" y="1222.5" font-family="'Liberation Serif', serif" font-size="61">(<tspan font-weight="bold">b</tspan>)</text>
</svg>
</body></html>
